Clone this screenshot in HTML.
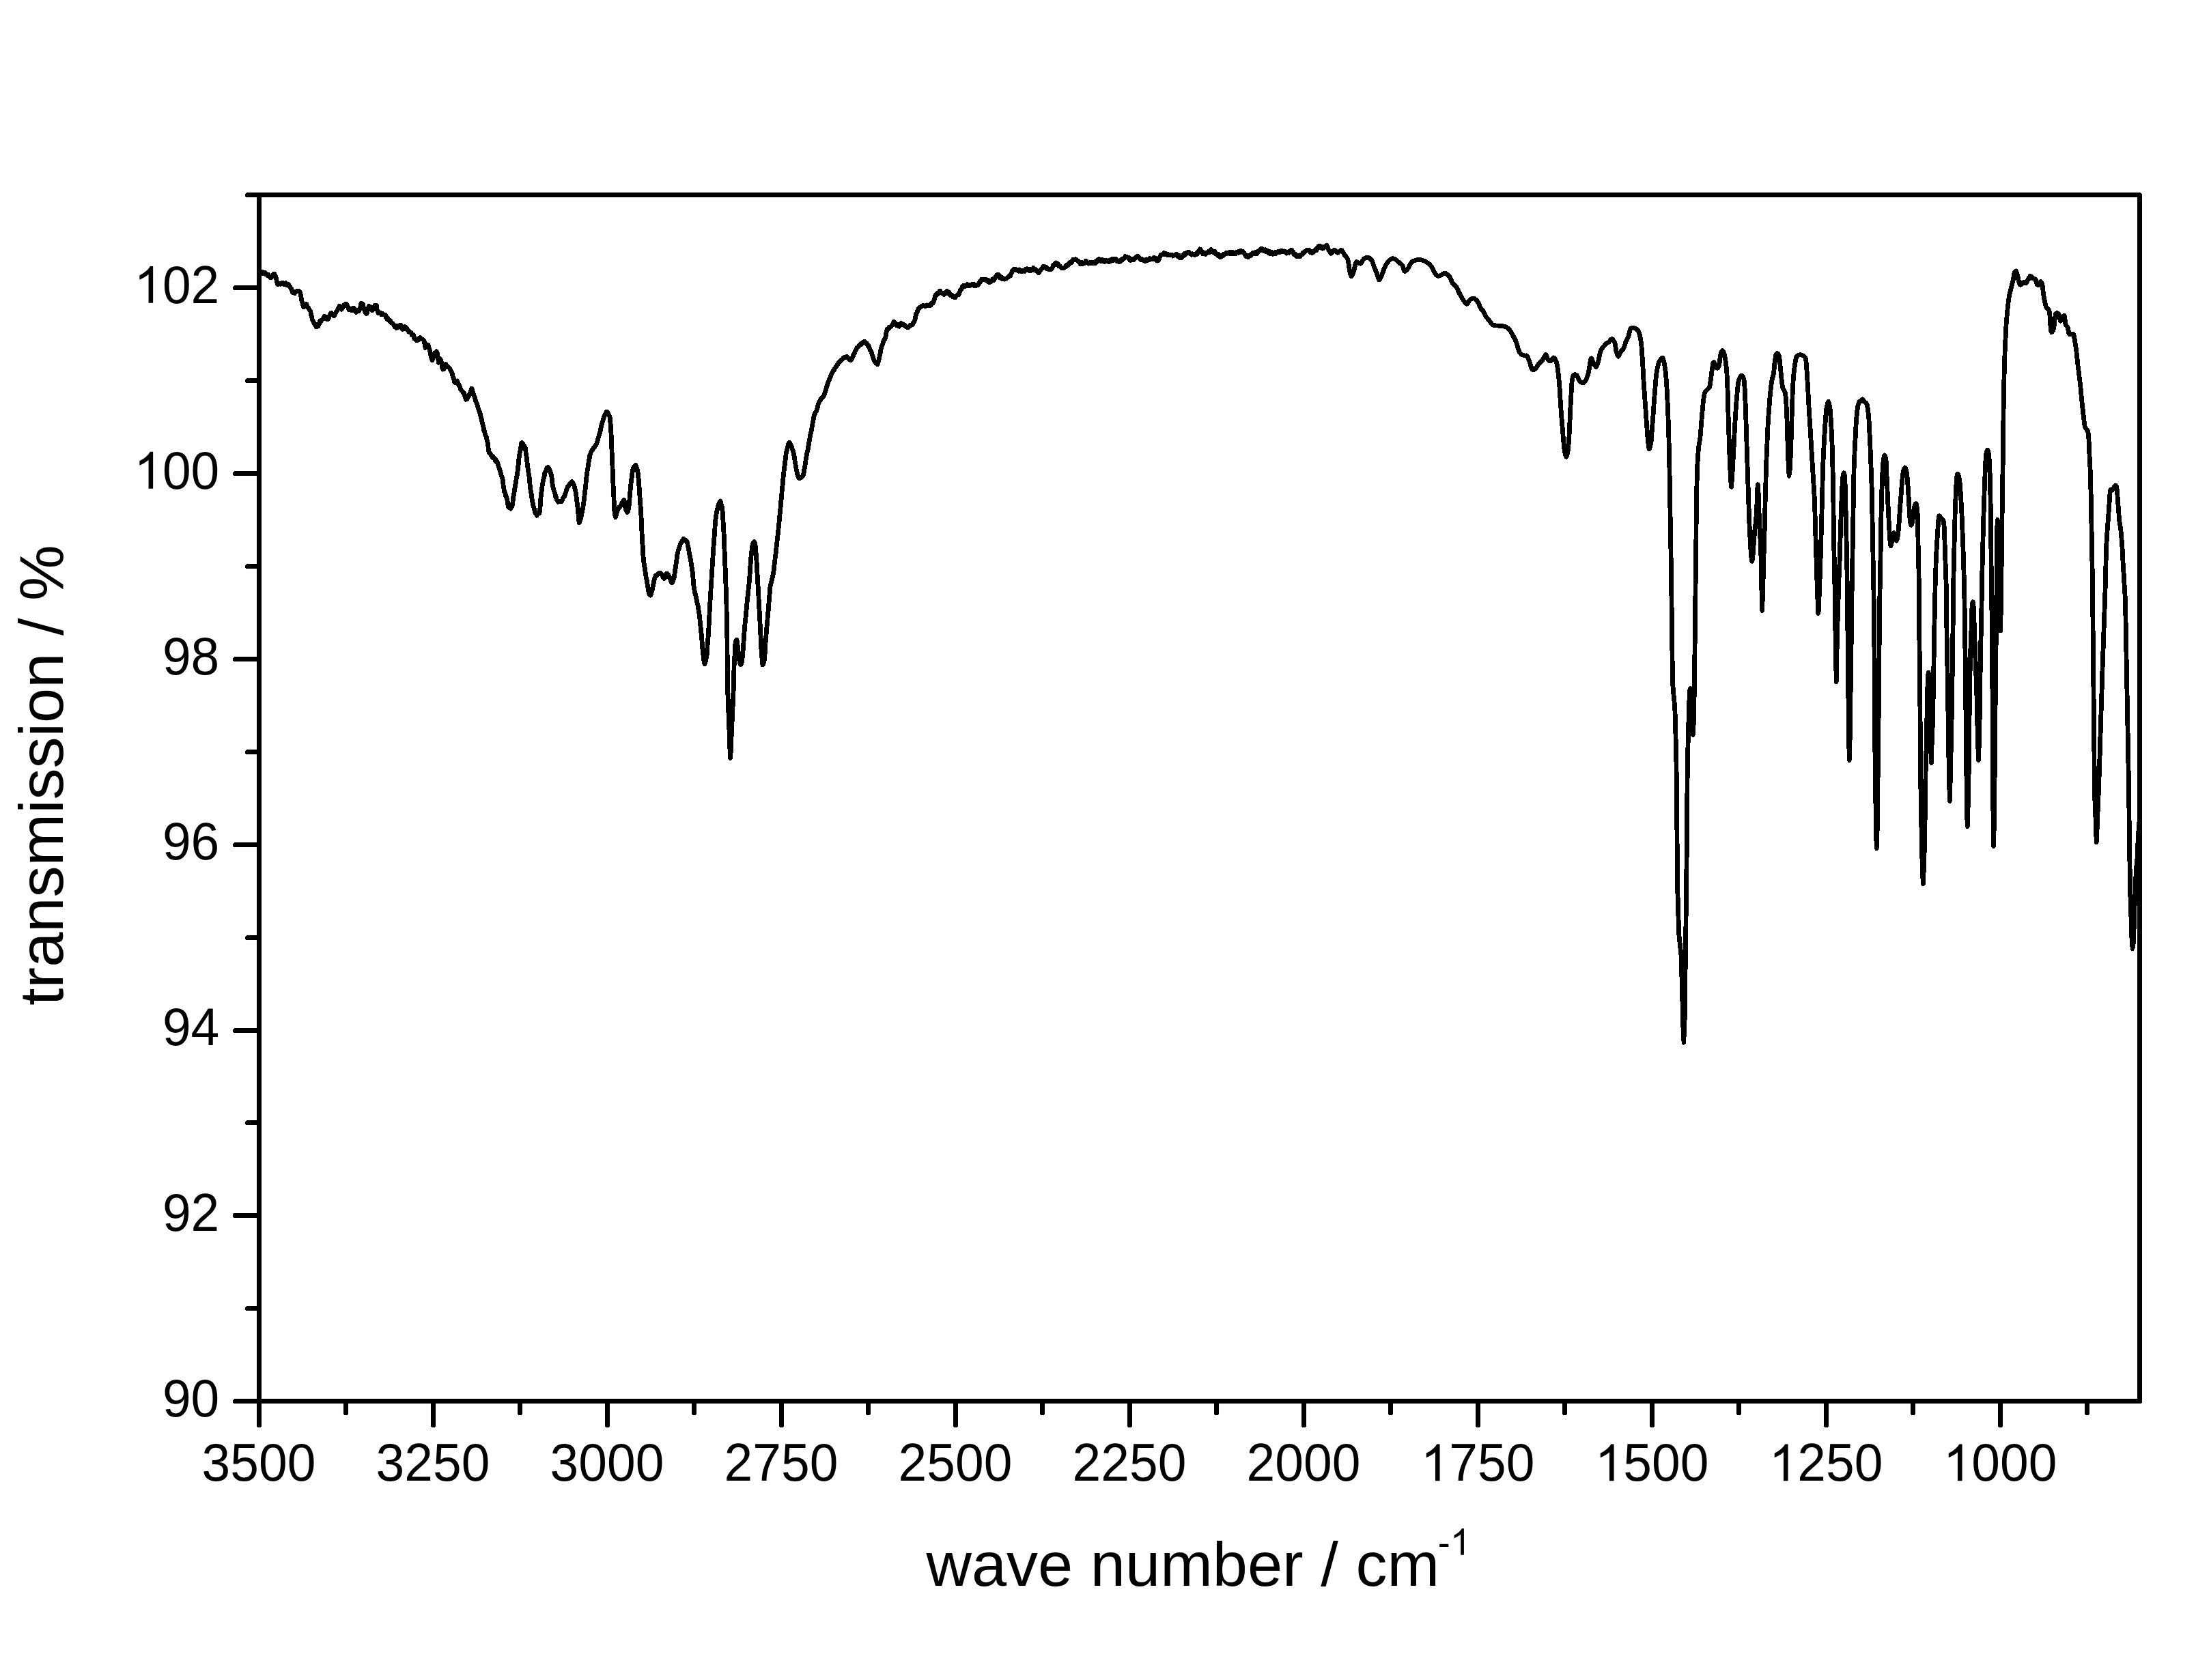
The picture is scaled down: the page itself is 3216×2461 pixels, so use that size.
<!DOCTYPE html>
<html><head><meta charset="utf-8"><title>IR spectrum</title>
<style>html,body{margin:0;padding:0;background:#fff}svg{display:block}text{font-family:"Liberation Sans",sans-serif;fill:#000}</style></head>
<body>
<svg width="3216" height="2461" viewBox="0 0 3216 2461">
<rect width="3216" height="2461" fill="#fff"/>
<path d="M379.5 398.5L380.2 397.7L381.3 399.1L382.5 401.0L383.1 398.2L383.9 398.3L384.9 400.8L386.1 399.7L387.2 401.0L388.3 399.6L389.2 400.2L390.0 401.1L390.8 401.7L391.7 403.5L392.8 402.4L393.9 405.1L395.0 405.8L396.0 406.5L396.8 406.4L397.5 406.5L398.4 404.9L399.4 403.7L400.3 401.9L401.2 402.9L402.0 401.2L402.7 402.5L403.5 404.7L404.5 407.5L405.5 413.2L406.5 416.0L407.5 416.8L408.2 415.8L409.0 415.7L410.1 415.8L411.2 416.2L412.4 414.8L413.6 415.5L414.8 414.5L415.8 416.6L416.8 416.6L417.5 415.2L418.3 414.4L419.3 417.4L420.4 415.8L421.5 416.8L422.5 416.4L423.5 418.5L424.3 419.7L425.0 420.5L425.9 422.2L426.9 423.6L428.0 427.2L429.0 428.6L430.0 429.1L430.7 429.1L431.6 429.7L432.6 427.7L433.8 426.7L435.0 426.7L436.2 426.9L437.2 426.1L438.1 426.7L438.8 427.1L439.8 429.5L440.9 434.6L442.0 440.8L443.0 444.2L443.8 446.9L444.7 450.0L445.7 447.0L446.9 448.3L447.9 447.5L448.8 445.4L449.7 448.9L450.8 450.4L451.9 451.0L453.0 453.3L453.8 454.9L454.6 455.3L455.5 460.5L456.5 464.4L457.5 468.6L458.1 469.9L459.0 471.8L460.1 473.0L461.2 476.1L462.4 477.3L463.5 479.0L464.4 478.5L465.0 478.4L466.0 477.5L467.0 475.2L467.9 472.9L468.8 469.9L469.4 471.5L470.3 469.5L471.3 468.6L472.4 467.5L473.4 466.7L474.3 465.4L475.0 463.3L475.9 463.5L477.0 466.9L478.1 466.8L479.2 467.6L480.0 468.0L480.9 467.0L481.9 463.1L483.1 461.6L484.1 459.1L485.0 458.7L485.8 458.7L486.9 460.9L488.0 461.7L489.1 463.0L490.0 461.2L490.7 460.3L491.6 458.3L492.6 456.6L493.6 455.1L494.6 453.4L495.5 451.3L496.2 450.5L497.1 448.5L498.2 449.4L499.3 450.8L500.3 453.2L501.2 451.8L502.0 451.0L503.0 448.4L504.1 446.7L505.3 445.6L506.3 445.6L507.0 445.2L507.8 446.1L508.6 448.2L509.5 449.5L510.4 452.5L511.2 453.7L511.9 453.9L512.8 453.8L513.8 452.3L514.9 454.5L515.9 451.8L516.8 454.2L517.5 454.0L518.4 451.4L519.5 453.8L520.6 456.1L521.7 457.4L522.5 456.0L523.3 455.2L524.3 454.3L525.4 455.9L526.3 452.5L527.0 452.8L527.9 449.7L528.9 444.2L530.0 445.3L530.6 446.4L531.5 445.7L532.5 450.9L533.5 452.9L534.6 457.0L535.5 458.5L536.2 457.9L537.1 459.4L538.2 455.6L539.4 451.0L540.4 448.4L541.2 448.8L542.1 449.5L543.1 451.4L544.1 453.3L545.0 455.0L545.7 454.3L546.7 452.5L547.8 452.3L548.9 447.4L549.8 448.4L550.5 448.2L551.3 447.1L552.1 453.0L553.0 456.3L553.8 457.7L554.4 458.9L555.3 457.3L556.3 457.9L557.3 458.2L558.3 460.5L559.3 459.4L560.0 459.0L560.7 459.6L561.7 460.5L562.7 460.9L563.7 461.1L564.7 462.2L565.6 465.5L566.2 464.3L567.1 467.7L568.2 466.8L569.1 468.2L570.0 470.0L570.8 470.5L571.9 469.9L573.0 472.9L574.1 473.2L575.0 473.6L575.8 474.7L576.9 475.7L578.0 478.6L579.1 478.8L580.0 480.2L580.7 480.3L581.6 477.6L582.6 479.4L583.7 477.8L584.7 478.3L585.6 477.5L586.2 476.3L587.2 476.4L588.2 481.3L589.2 480.3L590.0 482.4L590.8 481.9L591.8 480.0L592.9 478.5L593.8 479.6L594.6 481.2L595.6 480.4L596.8 483.6L597.9 484.2L598.8 486.4L599.5 486.5L600.4 486.4L601.4 487.1L602.4 488.0L603.4 491.1L604.3 490.5L605.0 490.2L605.9 491.7L606.9 496.2L608.1 497.0L609.1 497.8L610.0 499.0L610.7 498.8L611.6 497.8L612.6 497.7L613.6 495.7L614.6 495.2L615.5 494.5L616.2 495.2L617.1 496.7L618.3 497.1L619.5 497.2L620.5 498.5L621.2 500.1L622.2 505.0L623.0 509.4L623.6 508.8L624.5 506.0L625.4 504.9L626.2 506.6L627.0 505.1L628.1 509.2L629.2 512.8L630.0 516.2L631.0 521.0L632.1 525.0L633.0 527.9L633.7 526.2L634.6 522.7L635.5 518.6L636.2 517.7L637.0 516.8L638.1 517.0L639.2 514.8L640.0 515.9L640.8 519.6L641.8 527.3L642.5 531.3L643.2 529.5L644.2 528.2L645.0 525.8L645.8 528.1L646.8 533.5L647.9 539.3L648.8 541.1L649.6 540.8L650.6 539.5L651.6 535.2L652.5 533.7L653.3 533.9L654.4 535.5L655.6 536.7L656.7 538.3L657.5 538.3L658.4 539.3L659.4 541.6L660.3 542.7L661.2 545.2L662.0 545.8L663.1 551.9L664.3 553.9L665.4 559.5L666.2 560.5L667.1 559.7L668.2 558.4L669.2 557.9L670.0 559.3L670.8 561.0L671.8 564.1L672.9 565.2L673.8 567.3L674.6 570.3L675.7 572.0L676.9 573.0L678.0 574.0L678.8 576.5L679.6 576.1L680.5 579.1L681.4 581.8L682.3 585.2L683.0 585.0L683.9 584.7L685.0 583.0L686.1 580.6L687.0 579.1L687.8 576.8L688.7 575.8L689.7 571.9L690.5 569.3L691.2 569.5L692.2 573.6L693.2 577.4L694.2 579.7L695.0 581.7L695.8 584.1L696.9 588.7L698.1 590.7L699.1 593.3L700.0 596.9L700.9 599.5L702.0 602.9L703.1 605.6L704.2 610.8L705.0 613.3L705.9 617.1L706.9 621.2L707.9 625.1L708.8 631.6L709.6 632.2L710.8 637.4L712.0 639.1L713.0 644.3L713.8 647.1L714.6 650.8L715.4 659.5L716.2 662.5L716.9 664.0L718.0 664.4L719.2 666.4L720.3 668.4L721.2 670.3L722.1 668.6L723.1 670.7L724.3 671.4L725.3 675.4L726.2 673.8L727.1 675.0L728.2 677.0L729.3 680.4L730.4 684.4L731.2 686.3L732.0 688.6L732.9 691.2L733.9 695.5L734.8 698.6L735.5 699.4L736.3 703.3L737.2 711.6L738.1 716.8L738.8 720.8L739.6 721.3L740.7 726.4L741.7 728.3L742.5 730.8L743.3 735.3L744.1 740.5L745.0 743.3L745.8 743.5L746.8 743.9L748.0 745.1L749.2 740.7L750.0 741.6L750.7 738.1L751.5 730.2L752.4 724.6L753.2 720.4L753.8 716.1L754.6 711.5L755.7 704.7L756.7 697.9L757.5 694.9L758.1 689.7L758.7 683.5L759.4 679.0L760.0 671.5L760.6 667.1L761.5 661.8L762.5 657.6L763.4 649.8L764.2 648.5L764.9 648.5L765.9 651.1L766.9 653.0L768.0 653.0L768.9 655.3L769.5 657.3L770.3 664.8L771.1 668.6L771.6 673.6L772.3 680.1L773.1 686.5L773.8 691.4L774.4 694.2L775.1 699.6L775.6 704.2L776.2 711.0L776.8 716.5L777.5 720.4L778.2 724.0L779.2 732.1L780.3 737.3L781.2 741.7L782.0 743.4L783.1 748.8L784.3 752.0L785.4 753.1L786.2 755.3L787.1 752.4L788.2 752.6L789.2 752.0L790.0 751.6L790.5 748.2L791.0 743.0L791.5 736.9L792.0 729.1L792.5 724.6L793.1 719.8L793.8 714.2L794.6 709.0L795.5 703.9L796.2 701.5L796.9 698.6L797.9 692.7L798.9 691.3L800.0 688.3L801.0 685.8L801.8 684.7L802.6 684.5L803.5 685.1L804.5 687.2L805.5 689.9L806.4 693.8L807.0 693.6L807.8 697.7L808.6 703.9L809.3 711.6L810.0 714.1L810.8 717.3L811.8 720.3L812.8 723.5L813.8 727.7L814.4 728.2L815.3 731.9L816.3 733.3L817.3 735.2L818.3 734.1L819.3 734.4L820.0 734.8L820.7 734.5L821.7 734.9L822.7 734.2L823.7 731.7L824.7 729.3L825.6 728.4L826.2 727.9L827.1 725.7L828.0 722.7L829.0 719.9L830.0 716.5L830.6 715.3L831.5 713.0L832.6 712.4L833.7 709.9L834.8 708.7L835.9 707.1L836.8 706.9L837.5 705.7L838.5 706.6L839.6 708.5L840.7 711.1L841.7 715.2L842.5 717.6L843.2 721.3L844.0 727.4L844.9 734.1L845.7 741.2L846.2 745.0L846.7 750.4L847.2 756.4L847.7 762.0L848.2 765.5L848.8 764.6L849.8 761.6L850.8 758.2L851.8 752.8L852.5 750.0L853.2 746.6L854.0 741.2L854.9 735.1L855.7 729.7L856.2 724.3L856.9 718.4L857.6 712.4L858.1 706.9L858.6 701.6L859.3 695.2L860.0 690.8L860.8 685.8L861.8 678.5L862.9 672.6L863.8 667.3L864.6 665.5L865.5 662.5L866.6 660.1L867.5 659.2L868.1 658.5L869.0 656.1L870.1 655.6L871.1 654.3L872.2 652.3L873.1 651.1L873.8 649.8L874.7 646.8L875.8 643.1L877.0 639.0L878.0 635.7L878.8 632.7L879.7 628.6L880.6 624.1L881.6 620.4L882.5 617.8L883.2 614.9L884.1 612.3L885.2 609.2L886.3 607.4L887.2 604.9L888.0 603.1L888.9 603.2L890.1 604.9L891.2 606.9L892.3 609.2L893.0 610.5L893.6 615.2L894.2 622.2L894.7 629.3L895.0 635.3L895.3 640.4L895.4 645.9L895.6 650.3L895.8 654.8L896.0 660.3L896.2 664.9L896.4 669.5L896.6 675.8L896.9 682.2L897.1 687.2L897.3 692.2L897.5 698.5L897.8 704.8L898.0 709.7L898.2 714.3L898.5 719.8L898.8 725.3L899.0 730.7L899.2 735.4L899.5 741.3L899.8 746.9L900.0 749.7L900.6 754.9L901.5 757.6L902.2 755.4L903.1 751.7L904.1 748.3L905.0 745.8L905.8 744.6L906.9 742.6L908.1 742.2L909.2 740.4L910.0 739.2L910.9 737.2L912.0 735.1L913.0 733.3L913.8 732.5L914.6 735.0L915.5 741.4L916.2 744.9L917.0 747.2L918.0 749.8L918.8 750.4L919.6 748.8L920.5 744.4L921.2 740.7L921.7 736.2L922.1 729.1L922.5 724.3L922.9 719.9L923.3 715.3L923.8 710.2L924.4 704.9L925.3 698.3L926.2 691.2L927.0 687.2L927.8 684.9L928.9 683.4L930.0 683.0L930.8 681.4L931.8 683.3L932.9 686.8L933.8 690.7L934.3 693.1L934.8 698.5L935.4 704.5L935.8 710.2L936.2 715.7L936.5 720.2L936.9 725.4L937.2 730.5L937.5 734.5L937.8 738.7L938.2 743.1L938.5 748.3L938.8 752.5L939.0 755.9L939.2 761.2L939.5 766.4L939.6 770.5L939.8 774.8L940.1 781.5L940.3 786.7L940.5 790.7L940.8 795.5L941.2 800.3L941.5 804.8L941.7 809.2L942.0 815.5L942.5 820.6L943.0 824.1L943.8 829.5L944.7 835.7L945.5 840.2L946.2 845.5L947.1 849.7L948.2 856.3L949.2 862.8L950.0 866.7L950.8 869.9L951.7 871.4L952.5 872.0L953.3 870.5L954.3 867.2L955.4 863.0L956.2 859.4L957.0 855.1L958.0 849.6L958.8 846.6L959.5 845.4L960.5 842.9L961.6 842.8L962.5 842.4L963.3 840.6L964.4 841.1L965.5 839.3L966.6 839.6L967.5 839.6L968.4 840.8L969.4 842.3L970.6 844.7L971.7 846.8L972.5 847.4L973.3 847.0L974.3 844.8L975.3 842.6L976.2 840.0L977.0 840.2L977.8 840.8L978.7 842.1L979.7 843.7L980.6 846.5L981.2 847.9L982.1 850.0L983.0 852.5L983.8 854.0L984.5 853.8L985.4 851.4L986.3 849.2L987.0 847.4L987.8 842.6L988.7 835.2L989.5 829.9L990.1 825.6L990.9 819.8L991.8 813.4L992.5 810.2L993.3 806.1L994.3 803.6L995.3 800.3L996.2 797.5L997.0 795.9L998.1 794.0L999.2 792.0L1000.3 791.4L1001.2 789.4L1002.1 790.5L1003.2 791.2L1004.3 791.6L1005.4 792.9L1006.2 793.3L1007.1 797.9L1008.2 802.3L1009.2 808.7L1010.0 813.2L1010.9 817.9L1012.0 822.9L1013.0 830.5L1013.8 835.7L1014.3 838.6L1014.7 844.1L1015.3 850.4L1015.7 855.8L1016.2 860.4L1017.0 864.6L1018.0 869.6L1019.1 873.3L1020.0 878.0L1020.9 882.4L1022.0 887.0L1023.1 893.9L1023.8 898.2L1024.4 902.0L1025.0 907.5L1025.4 912.1L1025.9 916.8L1026.5 922.8L1027.0 927.2L1027.4 931.9L1027.9 937.5L1028.2 941.8L1028.6 946.4L1029.0 952.3L1029.5 957.0L1030.2 962.3L1031.2 970.0L1032.0 972.8L1033.0 970.4L1034.1 964.3L1035.0 960.5L1035.5 955.6L1035.9 949.4L1036.2 943.1L1036.6 938.3L1037.1 933.0L1037.5 927.5L1037.8 922.6L1038.1 916.2L1038.5 909.4L1038.8 904.0L1039.0 898.2L1039.4 891.5L1039.7 884.9L1040.0 880.6L1040.3 876.0L1040.6 870.4L1041.0 865.0L1041.2 860.1L1041.5 855.7L1041.9 850.1L1042.2 844.6L1042.5 840.1L1042.8 835.7L1043.1 830.6L1043.5 825.0L1043.8 820.6L1044.0 814.9L1044.4 809.4L1044.7 803.8L1045.0 800.8L1045.3 796.4L1045.7 790.8L1046.2 784.6L1046.5 780.2L1046.8 775.7L1047.2 769.7L1047.6 764.1L1048.0 760.5L1048.6 756.3L1049.5 750.3L1050.4 746.7L1051.2 742.6L1052.0 739.7L1053.1 737.6L1054.2 735.0L1055.0 734.0L1056.0 737.8L1057.2 742.0L1058.0 748.0L1058.4 752.9L1058.7 759.1L1059.0 763.4L1059.3 768.2L1059.7 774.1L1060.0 780.2L1060.2 784.1L1060.4 789.4L1060.6 795.3L1060.8 800.8L1061.0 805.8L1061.2 810.1L1061.4 815.4L1061.6 821.1L1061.8 826.5L1062.0 830.1L1062.2 834.4L1062.4 839.8L1062.6 845.5L1062.7 850.9L1062.9 855.1L1063.1 859.6L1063.3 865.1L1063.5 870.9L1063.7 876.2L1063.8 880.3L1063.9 884.9L1064.0 889.9L1064.1 895.3L1064.2 899.7L1064.3 904.1L1064.4 909.7L1064.5 915.3L1064.6 919.7L1064.7 924.1L1064.8 929.7L1064.9 935.3L1065.0 939.2L1065.0 943.6L1065.0 949.2L1065.1 954.8L1065.1 959.2L1065.1 963.6L1065.1 969.2L1065.1 974.8L1065.1 979.2L1065.1 983.6L1065.1 989.2L1065.2 994.8L1065.2 999.2L1065.3 1003.6L1065.6 1009.2L1065.8 1014.8L1066.0 1019.2L1066.1 1023.7L1066.4 1029.3L1066.6 1034.8L1066.7 1039.3L1066.9 1043.6L1067.1 1049.2L1067.3 1054.7L1067.5 1059.4L1067.7 1063.5L1067.9 1068.9L1068.1 1075.5L1068.4 1081.1L1068.5 1085.4L1068.7 1090.3L1068.9 1096.9L1069.2 1103.2L1069.4 1108.3L1069.6 1110.4L1069.8 1108.3L1070.1 1103.3L1070.3 1096.7L1070.6 1090.2L1070.8 1085.3L1071.0 1081.5L1071.3 1076.0L1071.6 1070.1L1071.8 1064.7L1072.0 1059.4L1072.2 1054.7L1072.4 1049.2L1072.7 1043.8L1072.9 1039.4L1073.1 1035.1L1073.3 1029.6L1073.5 1024.0L1073.7 1019.6L1073.9 1015.2L1074.2 1010.4L1074.4 1004.8L1074.6 1000.2L1074.7 995.3L1074.8 988.9L1074.9 982.5L1075.0 976.7L1075.3 971.0L1075.7 964.6L1076.0 959.2L1076.3 953.4L1076.6 946.5L1077.0 942.3L1077.9 938.2L1079.0 937.3L1079.7 941.5L1080.5 948.5L1081.2 955.1L1082.0 961.1L1083.0 968.2L1083.8 972.0L1084.6 973.7L1085.5 972.8L1086.2 970.6L1086.8 966.4L1087.5 961.2L1088.0 954.6L1088.4 949.2L1088.9 942.6L1089.2 936.9L1089.6 931.5L1090.1 924.8L1090.5 919.4L1091.0 913.9L1091.6 908.2L1092.2 903.1L1092.7 897.6L1093.3 890.8L1093.8 885.5L1094.3 880.0L1094.9 874.4L1095.4 869.6L1095.9 865.1L1096.5 859.1L1097.0 855.2L1097.3 851.0L1097.8 845.5L1098.2 839.6L1098.5 835.1L1098.8 830.6L1099.2 824.7L1099.6 819.1L1100.0 815.2L1100.5 810.7L1101.2 804.7L1101.9 799.4L1102.5 796.9L1103.4 794.7L1104.6 793.4L1105.5 795.6L1106.0 797.6L1106.6 803.3L1107.1 810.2L1107.5 815.1L1107.8 819.7L1108.2 825.4L1108.5 831.4L1108.8 836.1L1109.0 840.5L1109.4 846.4L1109.7 852.3L1110.0 856.8L1110.3 861.7L1110.6 868.0L1111.0 874.3L1111.2 880.4L1111.5 885.4L1111.9 891.6L1112.2 896.6L1112.5 901.7L1112.7 905.9L1113.0 911.2L1113.3 917.9L1113.5 923.3L1113.8 927.6L1114.0 931.9L1114.2 938.0L1114.5 943.8L1114.8 949.1L1115.0 951.9L1115.4 957.3L1115.9 964.1L1116.5 970.1L1117.0 974.0L1117.8 973.0L1118.8 969.0L1119.5 965.2L1120.0 960.2L1120.4 953.7L1120.8 948.0L1121.1 941.5L1121.6 934.9L1122.0 929.7L1122.5 924.3L1123.0 917.6L1123.5 912.2L1124.0 906.7L1124.5 899.7L1125.0 895.6L1125.5 890.2L1126.0 883.4L1126.5 878.0L1126.9 872.6L1127.4 865.9L1128.0 859.2L1128.7 855.8L1129.7 852.8L1130.8 847.9L1131.8 843.2L1132.5 840.4L1133.2 835.0L1133.8 829.5L1134.3 824.6L1134.9 820.0L1135.6 814.2L1136.2 809.6L1136.8 804.3L1137.5 797.3L1138.1 792.2L1138.7 786.9L1139.4 781.0L1140.0 775.3L1140.4 771.0L1141.0 765.4L1141.5 760.0L1141.9 755.6L1142.3 750.9L1142.9 745.3L1143.4 739.1L1143.8 734.6L1144.2 730.6L1144.7 725.1L1145.2 719.3L1145.7 714.9L1146.1 710.9L1146.6 705.2L1147.1 699.2L1147.5 695.0L1148.1 689.7L1148.8 684.2L1149.3 680.2L1149.9 675.6L1150.5 670.4L1151.2 664.5L1152.0 661.0L1153.1 656.1L1154.2 652.2L1155.0 649.6L1155.8 648.3L1156.6 648.8L1157.5 650.2L1158.3 651.8L1159.3 654.2L1160.6 658.7L1161.7 661.6L1162.5 664.6L1163.4 670.5L1164.4 676.6L1165.4 683.2L1166.2 687.8L1167.0 691.3L1168.0 695.7L1169.0 698.7L1170.0 700.3L1170.6 700.6L1171.5 700.8L1172.6 699.7L1173.6 699.6L1174.7 698.5L1175.6 697.1L1176.2 695.7L1177.1 692.7L1178.2 686.0L1179.1 681.0L1180.0 674.4L1180.8 669.9L1181.9 663.7L1183.1 658.6L1184.2 651.7L1185.0 646.9L1185.9 642.1L1187.0 636.3L1188.0 632.0L1188.8 627.8L1189.5 623.6L1190.4 618.6L1191.3 613.9L1192.0 609.3L1192.7 607.3L1193.6 606.0L1194.6 603.5L1195.5 602.2L1196.2 600.5L1197.0 597.9L1198.0 592.9L1199.0 590.7L1200.0 588.2L1200.6 587.2L1201.5 586.2L1202.5 583.8L1203.6 582.8L1204.6 581.6L1205.5 580.4L1206.2 580.6L1207.1 578.3L1208.2 574.8L1209.3 571.6L1210.3 567.9L1211.2 564.7L1212.0 562.5L1213.0 559.6L1214.1 557.7L1215.2 553.9L1216.2 551.6L1217.0 549.9L1217.8 548.3L1218.7 545.8L1219.8 544.3L1220.8 542.5L1221.8 541.6L1222.5 539.8L1223.4 538.3L1224.4 537.7L1225.5 535.3L1226.5 534.3L1227.5 532.7L1228.2 531.0L1229.1 530.6L1230.1 529.5L1231.2 528.9L1232.4 527.2L1233.4 526.7L1234.3 525.6L1235.0 524.5L1236.0 523.9L1237.0 523.1L1238.1 523.8L1239.1 522.5L1240.0 522.2L1240.7 522.6L1241.6 523.6L1242.6 525.4L1243.7 526.7L1244.7 526.0L1245.6 527.4L1246.2 527.5L1247.1 526.9L1248.2 523.9L1249.1 522.0L1250.0 519.8L1250.8 518.1L1251.8 516.7L1253.0 513.4L1254.1 511.2L1255.0 509.5L1255.7 508.7L1256.6 508.5L1257.6 507.1L1258.6 505.5L1259.6 505.4L1260.5 503.7L1261.2 504.3L1262.1 503.3L1263.2 502.5L1264.3 501.4L1265.4 500.4L1266.2 500.3L1267.1 500.9L1268.1 502.7L1269.3 502.8L1270.3 505.6L1271.2 505.4L1272.1 507.2L1273.2 509.4L1274.3 512.8L1275.4 514.4L1276.2 516.0L1277.1 519.3L1278.1 521.6L1279.1 525.2L1280.0 527.6L1280.8 529.0L1282.0 531.1L1283.2 532.5L1284.2 533.2L1285.0 533.5L1285.9 531.8L1286.7 528.0L1287.5 525.5L1288.2 521.7L1289.2 516.8L1290.3 510.3L1291.2 507.3L1292.0 506.0L1293.1 502.7L1294.3 498.5L1295.4 497.0L1296.2 496.2L1297.0 493.2L1297.8 487.6L1298.7 483.9L1299.5 481.9L1300.2 482.3L1301.1 482.0L1302.2 479.4L1303.3 478.9L1304.2 478.6L1305.0 478.3L1305.9 477.0L1307.0 475.7L1308.1 473.0L1309.1 471.0L1310.0 472.6L1310.9 473.2L1311.9 473.9L1313.1 476.5L1314.1 475.5L1315.0 477.2L1315.9 477.0L1316.9 478.1L1318.1 476.4L1319.1 474.7L1320.0 473.6L1320.8 473.9L1321.9 475.8L1323.0 475.3L1324.1 476.7L1325.0 476.1L1325.7 476.4L1326.5 477.8L1327.5 479.3L1328.5 479.3L1329.5 479.0L1330.4 479.4L1331.2 478.7L1331.9 478.3L1332.9 476.6L1334.0 477.0L1335.1 476.4L1336.2 475.7L1337.3 473.1L1338.2 472.4L1338.8 471.4L1339.8 469.1L1340.8 464.1L1341.7 459.5L1342.5 458.2L1343.3 456.6L1344.2 454.1L1345.2 451.9L1346.2 451.1L1346.8 450.7L1347.7 449.8L1348.7 449.4L1349.8 448.6L1351.0 447.9L1352.1 447.1L1353.0 447.9L1353.8 447.8L1354.6 448.7L1355.5 448.4L1356.5 448.1L1357.6 446.9L1358.6 447.3L1359.6 447.2L1360.5 447.6L1361.2 446.7L1362.1 447.1L1363.2 447.2L1364.3 444.1L1365.4 444.7L1366.3 444.2L1367.0 442.2L1368.0 439.6L1369.0 436.5L1370.0 432.4L1370.6 431.5L1371.4 432.0L1372.4 429.7L1373.5 430.4L1374.5 429.9L1375.5 427.9L1376.2 426.3L1376.9 426.3L1377.9 428.2L1378.9 428.6L1379.9 429.8L1380.9 429.9L1381.8 430.7L1382.5 431.5L1383.4 430.2L1384.4 429.0L1385.4 429.6L1386.5 426.7L1387.5 428.1L1388.2 427.6L1389.0 429.5L1390.1 428.6L1391.2 432.3L1392.4 431.7L1393.5 432.0L1394.6 433.6L1395.5 434.8L1396.2 434.0L1397.0 435.3L1398.0 435.1L1399.0 435.5L1400.1 433.9L1401.0 433.0L1401.9 432.3L1402.5 431.7L1403.4 432.0L1404.5 430.8L1405.4 427.7L1406.2 425.4L1407.0 423.9L1407.9 423.8L1409.0 420.9L1410.0 418.9L1410.6 418.5L1411.5 420.1L1412.5 419.8L1413.6 418.9L1414.7 418.1L1415.8 418.1L1416.7 416.8L1417.5 418.9L1418.3 417.0L1419.2 417.8L1420.2 418.3L1421.2 418.3L1422.3 417.3L1423.3 416.8L1424.2 417.6L1425.0 416.4L1425.8 416.4L1426.7 418.6L1427.8 417.3L1428.9 418.9L1429.9 417.2L1431.0 417.5L1431.8 417.0L1432.5 417.3L1433.5 415.5L1434.5 413.3L1435.6 413.5L1436.6 410.4L1437.5 409.2L1438.2 409.1L1439.1 409.4L1440.1 409.1L1441.2 409.7L1442.2 409.8L1443.1 409.0L1443.8 409.1L1444.7 411.2L1445.7 411.8L1446.8 410.2L1447.9 413.2L1448.8 413.7L1449.5 413.2L1450.4 411.0L1451.4 412.6L1452.5 411.5L1453.6 409.0L1454.6 408.4L1455.5 410.6L1456.2 409.3L1457.2 407.0L1458.3 405.0L1459.4 403.4L1460.4 402.4L1461.2 403.3L1462.1 402.4L1463.0 403.0L1464.1 406.5L1465.0 407.1L1465.6 407.4L1466.5 405.9L1467.4 408.4L1468.5 407.9L1469.5 408.7L1470.4 408.5L1471.2 409.2L1471.9 409.0L1472.9 408.3L1473.9 407.9L1475.1 406.9L1476.2 405.8L1477.2 405.7L1478.1 404.2L1478.8 403.6L1479.8 403.7L1480.8 401.0L1481.9 398.2L1482.9 396.4L1483.8 395.1L1484.5 395.8L1485.4 394.3L1486.4 395.4L1487.4 394.4L1488.4 395.4L1489.3 395.5L1490.0 395.6L1490.9 395.8L1491.9 397.2L1493.0 395.0L1494.0 396.8L1495.0 397.2L1495.7 397.1L1496.6 397.3L1497.6 397.6L1498.7 396.0L1499.8 395.8L1500.9 397.2L1501.8 394.4L1502.5 395.9L1503.3 395.8L1504.2 393.9L1505.2 395.6L1506.2 395.8L1507.2 396.4L1508.1 394.6L1508.8 394.5L1509.5 396.3L1510.4 394.6L1511.4 394.3L1512.4 395.2L1513.4 392.4L1514.3 394.4L1515.0 394.2L1515.7 394.6L1516.6 394.6L1517.6 397.1L1518.6 396.7L1519.6 397.9L1520.5 398.7L1521.2 399.6L1521.9 399.1L1522.8 396.4L1523.8 395.7L1524.9 394.2L1525.9 393.1L1526.8 392.8L1527.5 390.6L1528.2 392.0L1529.2 390.8L1530.2 391.3L1531.2 390.9L1532.2 391.9L1533.1 393.7L1533.8 393.9L1534.7 393.5L1535.8 394.7L1536.9 394.1L1537.9 394.5L1538.8 394.4L1539.5 394.6L1540.3 393.5L1541.3 392.3L1542.4 388.4L1543.4 388.8L1544.3 388.0L1545.0 386.3L1545.7 386.2L1546.6 384.9L1547.6 386.1L1548.6 385.8L1549.6 386.9L1550.5 389.7L1551.2 389.1L1552.0 389.8L1553.0 391.0L1554.1 392.2L1555.2 392.0L1556.2 392.6L1557.0 392.9L1557.8 392.7L1558.8 392.3L1559.8 391.2L1560.8 390.6L1561.8 388.5L1562.5 389.3L1563.3 388.2L1564.3 388.7L1565.2 386.2L1566.2 385.8L1567.0 384.8L1567.7 384.0L1568.6 385.1L1569.7 384.1L1570.7 382.0L1571.7 380.1L1572.5 381.0L1573.2 380.8L1574.1 380.4L1575.1 379.8L1576.2 380.5L1577.2 381.4L1578.1 381.6L1578.8 382.0L1579.7 382.9L1580.8 384.5L1581.9 386.3L1582.9 384.5L1583.8 386.4L1584.5 384.7L1585.3 384.7L1586.3 386.3L1587.4 385.1L1588.4 385.6L1589.3 383.8L1590.0 382.3L1590.7 382.4L1591.6 383.6L1592.6 384.4L1593.6 385.7L1594.6 386.1L1595.5 384.8L1596.2 384.7L1596.9 384.9L1597.8 384.1L1598.8 385.9L1599.9 384.7L1600.9 384.6L1601.8 384.2L1602.5 384.0L1603.2 385.7L1604.1 383.4L1605.1 385.1L1606.2 381.7L1607.2 383.3L1608.1 380.4L1608.8 380.1L1609.5 379.7L1610.4 381.8L1611.4 380.5L1612.4 382.2L1613.4 380.8L1614.3 380.5L1615.0 382.8L1615.7 382.9L1616.6 382.8L1617.6 383.4L1618.6 383.1L1619.6 381.2L1620.5 382.9L1621.2 383.1L1621.9 383.0L1622.8 382.1L1623.8 383.3L1624.9 381.1L1625.9 383.0L1626.8 382.0L1627.5 379.7L1628.2 379.6L1629.2 381.2L1630.2 381.5L1631.2 379.0L1632.2 379.5L1633.1 380.6L1633.8 380.7L1634.7 379.5L1635.8 382.6L1636.9 382.6L1637.9 382.2L1638.8 383.4L1639.5 383.8L1640.4 382.7L1641.4 382.6L1642.4 380.1L1643.4 381.1L1644.3 379.0L1645.0 379.2L1645.9 378.4L1647.0 377.4L1648.1 375.6L1649.2 376.1L1650.0 376.3L1650.8 376.9L1651.9 377.5L1653.0 377.5L1654.1 378.0L1655.0 381.4L1655.7 381.5L1656.6 380.7L1657.6 380.9L1658.6 379.1L1659.6 379.7L1660.5 380.5L1661.2 379.8L1662.1 378.5L1663.1 376.8L1664.2 376.2L1665.3 376.8L1666.2 375.1L1666.9 375.5L1667.8 377.2L1668.8 378.0L1669.8 380.0L1670.8 380.8L1671.8 380.0L1672.5 379.7L1673.2 380.7L1674.1 381.3L1675.1 381.8L1676.2 382.5L1677.2 382.6L1678.1 379.9L1678.8 379.8L1679.5 382.0L1680.4 381.6L1681.4 381.3L1682.4 380.0L1683.4 378.7L1684.3 380.1L1685.0 379.7L1685.7 379.6L1686.6 379.2L1687.6 379.8L1688.7 378.1L1689.7 377.4L1690.5 378.9L1691.2 379.7L1692.1 378.3L1693.2 380.7L1694.3 382.0L1695.4 380.5L1696.2 381.5L1697.0 380.6L1698.0 378.0L1699.1 374.9L1700.2 373.0L1701.2 373.3L1701.9 372.9L1702.8 372.8L1703.8 371.7L1704.9 370.5L1706.0 372.6L1707.1 371.0L1708.0 372.1L1708.8 372.2L1709.5 373.4L1710.4 373.6L1711.4 372.9L1712.5 373.2L1713.6 373.9L1714.6 373.1L1715.5 373.4L1716.2 373.5L1717.0 373.6L1717.9 375.0L1718.9 373.9L1720.1 373.8L1721.1 374.0L1722.2 372.7L1723.1 372.4L1723.8 372.4L1724.6 375.6L1725.5 374.4L1726.5 374.3L1727.5 376.7L1728.4 377.8L1729.3 376.4L1730.0 377.8L1730.7 377.4L1731.6 375.8L1732.6 375.2L1733.6 372.5L1734.6 371.4L1735.5 373.3L1736.2 372.3L1736.9 371.9L1737.8 370.5L1738.8 370.4L1739.8 369.3L1740.8 370.8L1741.7 369.7L1742.5 371.3L1743.2 371.1L1744.1 371.9L1745.1 373.1L1746.2 371.8L1747.3 372.0L1748.3 373.1L1749.3 373.5L1750.0 373.3L1750.8 372.7L1751.9 371.4L1753.0 372.3L1754.2 369.4L1755.3 369.3L1756.2 368.0L1757.0 364.9L1757.8 365.1L1758.8 367.5L1759.8 368.1L1760.8 368.5L1761.7 372.0L1762.5 370.5L1763.2 371.5L1764.1 371.7L1765.1 372.4L1766.2 371.3L1767.2 370.2L1768.1 370.1L1768.8 369.8L1769.7 368.5L1770.8 370.1L1771.9 369.4L1772.9 366.4L1773.8 365.6L1774.5 366.4L1775.3 367.1L1776.3 369.3L1777.3 369.9L1778.3 370.4L1779.2 368.6L1780.0 371.4L1780.7 371.9L1781.6 372.3L1782.6 372.9L1783.7 374.8L1784.8 372.8L1785.8 373.7L1786.7 376.0L1787.5 376.8L1788.3 376.0L1789.2 374.5L1790.2 374.9L1791.2 374.8L1792.3 372.2L1793.3 372.3L1794.2 371.6L1795.0 370.9L1795.7 370.6L1796.6 371.5L1797.6 370.3L1798.7 370.3L1799.8 369.8L1800.8 371.3L1801.7 369.1L1802.5 371.2L1803.2 369.6L1804.1 369.1L1805.2 371.8L1806.3 369.7L1807.4 371.9L1808.5 371.7L1809.6 371.8L1810.5 369.5L1811.2 370.3L1812.0 369.0L1813.0 368.6L1814.1 370.3L1815.2 369.1L1816.3 368.0L1817.3 367.2L1818.1 368.4L1818.8 368.5L1819.8 368.3L1820.9 370.3L1822.0 370.7L1823.0 372.6L1823.8 373.2L1824.6 375.6L1825.7 375.5L1826.8 374.5L1827.9 376.7L1828.8 374.8L1829.5 374.9L1830.3 373.6L1831.3 373.2L1832.4 374.1L1833.4 371.8L1834.3 370.6L1835.0 371.2L1835.7 370.9L1836.6 370.3L1837.6 371.9L1838.6 369.4L1839.6 371.9L1840.5 368.9L1841.2 371.2L1842.0 369.9L1843.0 369.0L1844.1 367.3L1845.2 365.6L1846.2 364.7L1847.0 364.1L1847.7 364.1L1848.7 364.8L1849.7 367.1L1850.8 367.6L1851.9 367.9L1852.9 365.9L1853.8 366.9L1854.5 369.0L1855.4 366.9L1856.4 369.4L1857.5 368.6L1858.7 371.2L1859.8 368.8L1860.8 371.6L1861.8 370.5L1862.5 370.1L1863.3 369.8L1864.2 372.2L1865.2 371.1L1866.2 369.9L1867.3 370.4L1868.3 371.6L1869.2 369.3L1870.0 370.2L1870.7 370.1L1871.7 368.5L1872.7 368.4L1873.8 369.9L1875.0 369.4L1876.1 367.3L1877.1 367.1L1878.1 368.6L1878.8 368.5L1879.6 368.3L1880.6 367.9L1881.6 368.1L1882.7 369.7L1883.7 370.4L1884.7 371.1L1885.5 370.7L1886.2 369.6L1887.1 368.8L1888.2 370.0L1889.3 368.1L1890.3 368.3L1891.2 366.2L1891.9 366.6L1892.8 369.7L1893.8 369.4L1894.8 372.1L1895.8 373.3L1896.8 373.2L1897.5 372.3L1898.2 375.4L1899.1 374.4L1900.1 375.9L1901.2 374.3L1902.2 374.2L1903.1 376.1L1903.8 376.0L1904.5 374.2L1905.4 373.0L1906.4 372.8L1907.5 372.6L1908.5 369.9L1909.3 370.7L1910.0 369.8L1910.9 368.9L1912.0 367.8L1913.1 367.1L1914.2 366.4L1915.0 366.1L1915.8 366.5L1916.9 366.0L1918.0 367.4L1919.1 369.7L1920.0 368.2L1920.7 368.2L1921.6 370.4L1922.5 370.3L1923.6 368.4L1924.6 368.0L1925.5 367.5L1926.2 367.1L1927.0 364.8L1928.0 366.6L1929.1 363.0L1930.2 361.7L1931.2 360.5L1932.0 360.5L1932.8 360.5L1933.7 362.7L1934.8 361.0L1935.8 361.9L1936.7 364.2L1937.5 362.9L1938.3 362.0L1939.2 363.0L1940.2 362.0L1941.3 361.0L1942.2 361.0L1943.0 359.5L1943.8 360.6L1944.8 364.4L1945.9 366.4L1947.0 367.4L1948.0 369.5L1948.8 371.2L1949.6 371.1L1950.6 369.9L1951.7 368.4L1952.8 367.6L1953.7 366.2L1954.5 366.3L1955.4 366.9L1956.5 367.4L1957.6 369.0L1958.7 370.2L1959.5 370.4C1960.7 370.5 1963.4 365.9 1964.5 366.2C1965.6 366.5 1967.7 371.4 1968.8 373.0C1969.9 374.6 1972.9 377.4 1973.8 380.0C1974.7 382.6 1975.6 392.1 1976.2 395.0C1976.8 397.9 1978.1 404.7 1978.8 405.0C1979.5 405.3 1981.6 400.0 1982.5 397.5C1983.4 395.0 1985.0 385.1 1986.2 383.8C1987.4 382.5 1991.2 386.8 1992.5 386.2C1993.8 385.6 1996.2 379.8 1997.5 378.8C1998.8 377.8 2002.5 377.2 2003.8 377.5C2005.1 377.8 2007.8 379.6 2008.8 381.2C2009.8 382.8 2011.6 389.0 2012.5 391.2C2013.4 393.4 2015.4 397.8 2016.2 400.0C2017.0 402.2 2018.6 409.7 2019.5 410.0C2020.4 410.3 2022.9 404.5 2023.8 402.5C2024.7 400.5 2026.5 394.7 2027.5 392.5C2028.5 390.3 2031.2 385.4 2032.5 383.8C2033.8 382.2 2037.5 379.2 2038.8 378.8C2040.1 378.4 2042.6 379.3 2043.8 380.0C2045.0 380.7 2047.6 383.5 2048.8 384.5C2050.0 385.5 2052.8 387.3 2053.8 388.8C2054.8 390.3 2056.0 397.1 2057.0 397.5C2058.0 397.9 2061.3 394.1 2062.5 392.5C2063.7 390.9 2066.0 385.2 2067.5 383.8C2069.0 382.4 2073.4 381.2 2075.0 380.8C2076.6 380.4 2079.6 380.4 2081.2 380.8C2082.8 381.2 2087.1 382.7 2088.8 383.8C2090.6 384.9 2094.8 388.1 2096.2 390.0C2097.6 391.9 2100.0 398.3 2101.2 400.0C2102.4 401.7 2105.0 404.2 2106.2 404.5C2107.4 404.8 2110.0 403.0 2111.2 402.5C2112.4 402.0 2114.9 399.7 2116.2 400.0C2117.5 400.3 2121.2 403.2 2122.5 405.0C2123.8 406.8 2126.3 413.2 2127.5 415.0C2128.7 416.8 2131.3 418.2 2132.5 420.0C2133.7 421.8 2136.3 427.8 2137.5 430.0C2138.7 432.2 2141.3 437.0 2142.5 438.8C2143.7 440.6 2146.8 445.4 2148.0 445.5C2149.2 445.6 2151.4 440.5 2152.5 439.5C2153.6 438.5 2156.3 436.9 2157.5 437.0C2158.7 437.1 2161.5 438.9 2162.5 440.0C2163.5 441.1 2165.5 444.7 2166.2 446.2C2166.9 447.7 2168.1 451.3 2168.8 452.5C2169.5 453.7 2171.6 454.9 2172.5 456.2C2173.4 457.5 2175.2 462.2 2176.2 463.8C2177.2 465.4 2180.0 468.6 2181.2 470.0C2182.4 471.4 2184.9 475.4 2186.2 476.2C2187.5 477.0 2191.0 476.8 2192.5 477.0C2194.0 477.2 2197.3 477.3 2198.8 477.5C2200.3 477.7 2203.6 478.1 2205.0 478.8C2206.4 479.5 2209.9 482.2 2211.2 483.8C2212.5 485.4 2215.1 490.5 2216.2 492.5C2217.3 494.5 2219.6 498.9 2220.5 501.2C2221.4 503.5 2223.0 510.4 2223.8 512.5C2224.6 514.6 2226.3 517.8 2227.5 518.8C2228.7 519.8 2232.8 520.9 2233.8 521.2C2234.8 521.5 2235.5 520.2 2236.2 521.2C2236.9 522.2 2239.1 527.7 2240.0 530.0C2240.9 532.3 2242.8 540.0 2243.8 541.2C2244.8 542.4 2247.6 541.0 2248.8 540.0C2250.0 539.0 2252.6 534.0 2253.8 532.5C2255.0 531.0 2257.6 529.0 2258.8 527.5C2260.0 526.0 2262.8 519.5 2263.8 519.5C2264.8 519.5 2266.6 526.4 2267.5 527.5C2268.4 528.6 2270.3 529.2 2271.2 528.8C2272.1 528.4 2274.1 523.8 2275.0 523.8C2275.9 523.8 2278.1 526.9 2278.8 528.8C2279.5 530.7 2280.6 535.8 2281.2 540.0C2281.8 544.2 2283.4 559.9 2283.8 565.0C2284.2 570.1 2284.7 579.4 2285.0 583.8C2285.3 588.1 2285.9 598.4 2286.2 602.5C2286.5 606.6 2287.2 615.0 2287.5 618.8C2287.8 622.5 2288.4 630.2 2288.8 635.0C2289.2 639.8 2290.6 656.0 2291.2 660.0C2291.8 664.0 2293.2 669.5 2293.8 669.5C2294.4 669.5 2295.7 664.0 2296.2 660.0C2296.7 656.0 2297.9 640.2 2298.2 635.0C2298.5 629.8 2298.9 619.7 2299.1 615.0C2299.3 610.3 2299.8 599.4 2300.0 595.0C2300.2 590.6 2300.8 581.6 2301.0 577.5C2301.2 573.4 2301.6 563.3 2302.0 560.0C2302.4 556.7 2303.7 550.7 2304.5 549.5C2305.3 548.3 2307.7 548.4 2308.8 549.5C2309.9 550.6 2312.6 557.5 2313.8 558.8C2315.0 560.1 2318.3 561.1 2319.5 560.5C2320.7 559.9 2322.9 555.9 2323.8 553.8C2324.7 551.7 2326.3 545.9 2327.0 542.5C2327.7 539.1 2329.2 526.2 2330.0 525.0C2330.8 523.8 2333.0 531.0 2333.8 532.5C2334.6 534.0 2336.3 537.5 2337.0 537.5C2337.7 537.5 2339.2 535.1 2340.0 532.5C2340.8 529.9 2342.9 517.8 2343.8 515.0C2344.7 512.2 2346.5 510.2 2347.5 508.8C2348.5 507.4 2351.5 503.9 2352.5 503.0C2353.5 502.1 2355.3 502.0 2356.2 501.2C2357.1 500.4 2359.5 496.0 2360.5 496.2C2361.5 496.4 2364.2 500.3 2365.0 502.5C2365.8 504.7 2366.4 512.7 2367.0 515.0C2367.6 517.3 2369.2 522.5 2370.0 522.5C2370.8 522.5 2372.9 516.5 2373.8 515.0C2374.7 513.5 2377.1 511.8 2378.0 510.0C2378.9 508.2 2380.4 501.9 2381.2 500.0C2382.0 498.1 2383.8 495.8 2384.5 493.8C2385.2 491.8 2386.7 484.1 2387.5 482.5C2388.3 480.9 2390.0 480.0 2391.2 480.0C2392.4 480.0 2396.3 481.3 2397.5 482.5C2398.7 483.7 2400.5 487.4 2401.2 490.0C2401.9 492.6 2403.3 500.3 2403.8 505.0C2404.3 509.7 2405.2 525.0 2405.5 530.0C2405.8 535.0 2406.3 543.4 2406.5 547.5C2406.7 551.6 2407.2 560.9 2407.5 565.0C2407.8 569.1 2408.5 578.4 2408.8 582.5C2409.0 586.6 2409.7 595.9 2410.0 600.0C2410.3 604.1 2411.0 613.4 2411.2 617.5C2411.5 621.6 2412.1 630.3 2412.5 635.0C2412.9 639.7 2414.4 656.0 2415.0 657.5C2415.6 659.0 2417.5 650.6 2418.0 647.5C2418.5 644.4 2419.0 635.0 2419.2 631.2C2419.5 627.5 2420.2 618.9 2420.5 615.0C2420.8 611.1 2421.5 601.6 2421.8 597.5C2422.0 593.4 2422.7 583.8 2423.0 580.0C2423.3 576.2 2424.0 568.5 2424.2 565.0C2424.5 561.5 2425.0 553.8 2425.5 550.0C2426.0 546.2 2428.0 535.2 2428.8 532.5C2429.6 529.8 2431.3 527.7 2432.0 526.7C2432.7 525.7 2434.1 523.4 2434.7 524.2C2435.3 525.0 2436.9 530.3 2437.5 533.3C2438.1 536.3 2439.3 545.3 2439.7 550.0C2440.1 554.7 2441.0 567.7 2441.3 573.3C2441.6 578.9 2442.3 593.4 2442.5 598.3C2442.7 603.2 2443.0 611.1 2443.1 615.0C2443.2 618.9 2443.6 627.3 2443.7 631.7C2443.8 636.1 2444.1 647.6 2444.2 652.5C2444.3 657.4 2444.6 668.1 2444.7 673.3C2444.8 678.5 2445.0 691.2 2445.1 696.6C2445.2 702.1 2445.4 714.5 2445.5 720.0C2445.6 725.5 2445.8 738.4 2445.9 744.0C2446.0 749.6 2446.2 762.4 2446.3 768.0C2446.4 773.6 2446.6 786.4 2446.7 792.0C2446.8 797.6 2447.0 810.4 2447.1 816.0C2447.2 821.6 2447.4 834.4 2447.5 840.0C2447.6 845.6 2447.7 858.4 2447.8 864.0C2447.9 869.6 2448.0 882.4 2448.1 888.0C2448.2 893.6 2448.3 906.4 2448.4 912.0C2448.5 917.6 2448.6 930.4 2448.7 936.0C2448.8 941.6 2448.9 954.9 2449.0 960.0C2449.1 965.1 2449.2 975.3 2449.3 980.0C2449.4 984.7 2449.4 995.6 2449.6 1000.0C2449.8 1004.4 2450.7 1014.3 2451.0 1018.0C2451.3 1021.7 2452.1 1028.3 2452.4 1032.0C2452.7 1035.7 2453.1 1045.6 2453.3 1050.0C2453.5 1054.4 2453.7 1065.3 2453.8 1070.0C2453.9 1074.7 2454.2 1085.9 2454.3 1090.0C2454.4 1094.1 2454.6 1101.5 2454.7 1105.0C2454.7 1108.5 2454.9 1115.2 2455.0 1120.0C2455.1 1124.8 2455.2 1139.7 2455.2 1145.7C2455.3 1151.7 2455.4 1165.4 2455.5 1171.4C2455.5 1177.4 2455.7 1191.1 2455.7 1197.1C2455.8 1203.1 2455.9 1216.9 2456.0 1222.9C2456.0 1228.9 2456.2 1242.6 2456.2 1248.6C2456.3 1254.6 2456.4 1268.3 2456.5 1274.3C2456.5 1280.3 2456.6 1294.4 2456.7 1300.0C2456.8 1305.6 2457.2 1317.1 2457.4 1322.3C2457.5 1327.5 2457.9 1339.5 2458.0 1344.7C2458.2 1349.9 2458.4 1362.5 2458.7 1367.0C2459.0 1371.5 2460.0 1379.7 2460.3 1383.5C2460.7 1387.3 2461.7 1395.4 2462.0 1400.0C2462.3 1404.6 2462.5 1417.9 2462.7 1423.3C2462.8 1428.8 2463.2 1441.2 2463.3 1446.7C2463.5 1452.1 2463.8 1464.0 2464.0 1470.0C2464.2 1476.0 2464.6 1491.8 2464.8 1498.5C2464.9 1505.2 2465.2 1526.8 2465.5 1527.0C2465.8 1527.2 2466.8 1506.5 2467.0 1500.0C2467.2 1493.5 2467.3 1478.1 2467.4 1471.4C2467.5 1464.8 2467.7 1449.5 2467.8 1442.9C2467.9 1436.2 2468.1 1421.0 2468.2 1414.3C2468.2 1407.6 2468.5 1392.4 2468.5 1385.7C2468.6 1379.0 2468.8 1363.8 2468.9 1357.1C2469.0 1350.5 2469.2 1335.2 2469.3 1328.6C2469.4 1321.9 2469.6 1306.3 2469.7 1300.0C2469.8 1293.7 2469.9 1280.3 2469.9 1274.3C2470.0 1268.3 2470.1 1254.6 2470.2 1248.6C2470.2 1242.6 2470.3 1228.9 2470.4 1222.9C2470.4 1216.9 2470.6 1203.1 2470.6 1197.1C2470.7 1191.1 2470.8 1177.4 2470.8 1171.4C2470.9 1165.4 2471.0 1151.7 2471.1 1145.7C2471.1 1139.7 2471.2 1125.9 2471.3 1120.0C2471.4 1114.1 2471.8 1100.8 2471.9 1095.0C2472.1 1089.2 2472.5 1074.8 2472.6 1070.0C2472.7 1065.2 2472.9 1057.7 2473.0 1054.0C2473.1 1050.3 2473.2 1042.4 2473.4 1038.0C2473.6 1033.6 2474.2 1019.5 2474.4 1016.0C2474.6 1012.5 2475.2 1007.9 2475.4 1008.4C2475.6 1008.9 2476.1 1016.3 2476.3 1020.0C2476.5 1023.7 2477.0 1034.8 2477.3 1040.0C2477.6 1045.2 2478.3 1060.7 2478.5 1065.0C2478.7 1069.3 2479.1 1076.6 2479.3 1076.6C2479.5 1076.6 2479.8 1068.7 2480.0 1065.0C2480.2 1061.3 2480.5 1050.0 2480.6 1045.0C2480.7 1040.0 2480.9 1027.8 2481.1 1022.5C2481.2 1017.2 2481.4 1005.0 2481.5 1000.0C2481.6 995.0 2481.7 984.7 2481.7 980.0C2481.7 975.3 2481.8 965.1 2481.9 960.0C2482.0 954.9 2482.1 941.6 2482.2 936.0C2482.2 930.4 2482.4 917.6 2482.5 912.0C2482.5 906.4 2482.7 893.6 2482.7 888.0C2482.8 882.4 2483.0 869.6 2483.0 864.0C2483.1 858.4 2483.2 845.6 2483.3 840.0C2483.4 834.4 2483.5 821.6 2483.6 816.0C2483.6 810.4 2483.8 797.6 2483.9 792.0C2483.9 786.4 2484.1 773.6 2484.1 768.0C2484.2 762.4 2484.4 749.6 2484.4 744.0C2484.5 738.4 2484.6 725.0 2484.7 720.0C2484.8 715.0 2485.1 705.3 2485.2 700.9C2485.4 696.4 2485.5 686.9 2485.8 681.7C2486.1 676.5 2487.0 661.6 2487.5 656.7C2488.0 651.8 2489.5 644.9 2490.0 640.0C2490.5 635.1 2491.5 620.8 2492.0 615.0C2492.5 609.2 2493.7 594.7 2494.2 590.0C2494.7 585.3 2495.6 577.6 2496.7 575.0C2497.8 572.4 2502.3 569.6 2503.3 567.5C2504.3 565.4 2504.9 559.5 2505.3 556.7C2505.7 553.9 2506.6 546.1 2507.0 543.3C2507.4 540.5 2508.3 534.0 2508.7 532.5C2509.1 531.0 2509.9 530.2 2510.3 530.8C2510.7 531.4 2512.0 536.5 2512.5 537.5C2513.0 538.5 2514.4 539.5 2515.0 539.2C2515.6 538.9 2517.0 536.9 2517.5 535.0C2518.0 533.1 2518.8 525.5 2519.2 523.3C2519.6 521.1 2520.4 516.9 2520.8 515.8C2521.2 514.7 2522.0 513.4 2522.5 513.7C2523.0 514.0 2524.4 516.2 2525.0 518.3C2525.6 520.4 2527.0 527.6 2527.5 531.7C2528.0 535.8 2529.0 548.0 2529.3 553.3C2529.6 558.5 2530.1 572.2 2530.3 576.7C2530.5 581.2 2530.6 588.2 2530.7 591.7C2530.7 595.2 2530.9 603.0 2531.0 606.7C2531.1 610.4 2531.4 619.5 2531.5 623.4C2531.6 627.2 2531.9 636.1 2532.0 640.0C2532.1 643.9 2532.5 652.8 2532.6 656.6C2532.7 660.5 2533.0 668.2 2533.2 673.3C2533.4 678.4 2534.2 695.3 2534.5 700.0C2534.8 704.7 2535.3 713.3 2535.5 713.3C2535.7 713.3 2536.3 702.7 2536.5 700.0C2536.7 697.3 2537.0 693.1 2537.2 690.0C2537.4 686.9 2537.9 677.2 2538.1 673.4C2538.3 669.5 2538.8 660.6 2539.0 656.7C2539.2 652.8 2539.7 643.9 2539.8 640.0C2540.0 636.1 2540.4 628.2 2540.7 623.3C2541.0 618.4 2541.8 603.7 2542.2 598.3C2542.6 592.9 2543.6 581.2 2544.0 576.7C2544.4 572.2 2545.3 562.8 2545.8 560.0C2546.3 557.2 2547.7 553.7 2548.3 552.5C2548.9 551.3 2550.2 549.7 2550.8 550.0C2551.4 550.3 2553.2 552.7 2553.7 555.0C2554.2 557.3 2554.9 565.5 2555.2 570.0C2555.5 574.5 2556.0 588.8 2556.2 593.3C2556.4 597.8 2556.6 604.8 2556.7 608.3C2556.8 611.8 2557.1 619.6 2557.2 623.3C2557.3 627.0 2557.6 636.1 2557.7 640.0C2557.8 643.9 2558.1 652.8 2558.2 656.7C2558.3 660.6 2558.6 669.5 2558.8 673.4C2558.9 677.2 2559.2 686.3 2559.3 690.0C2559.4 693.7 2559.7 701.5 2559.8 705.0C2559.9 708.5 2560.2 715.7 2560.3 720.0C2560.4 724.3 2560.8 736.5 2561.0 741.5C2561.2 746.5 2561.5 758.5 2561.7 763.0C2561.9 767.5 2562.4 775.7 2562.6 780.0C2562.8 784.3 2563.3 795.8 2563.6 800.0C2563.9 804.2 2564.5 813.4 2564.8 816.0C2565.1 818.6 2565.6 822.4 2565.8 822.4C2566.0 822.4 2566.6 818.6 2566.9 816.0C2567.2 813.4 2567.7 804.2 2568.0 800.0C2568.3 795.8 2569.1 784.1 2569.5 780.0C2569.9 775.9 2570.9 768.9 2571.3 765.0C2571.7 761.1 2572.3 751.7 2572.6 746.7C2572.9 741.7 2573.4 726.0 2573.6 722.0C2573.8 718.0 2573.9 713.4 2574.0 712.0C2574.1 710.6 2574.3 709.7 2574.4 709.7C2574.5 709.7 2574.7 710.6 2574.8 712.0C2574.9 713.4 2575.0 718.0 2575.1 722.0C2575.2 726.0 2575.7 740.9 2575.9 746.7C2576.1 752.5 2576.7 765.9 2577.0 771.7C2577.3 777.5 2578.1 791.1 2578.3 796.7C2578.5 802.3 2579.0 814.9 2579.1 820.0C2579.2 825.1 2579.4 835.3 2579.4 840.0C2579.5 844.7 2579.7 855.7 2579.8 860.0C2579.9 864.3 2580.1 873.2 2580.2 877.2C2580.4 881.3 2580.6 894.5 2580.7 894.5C2580.8 894.5 2581.1 881.3 2581.2 877.2C2581.4 873.2 2581.7 864.3 2581.8 860.0C2581.9 855.7 2582.2 844.7 2582.3 840.0C2582.4 835.3 2582.7 824.1 2582.8 820.0C2582.9 815.9 2583.2 808.5 2583.3 805.0C2583.4 801.5 2583.7 794.7 2583.8 790.0C2583.9 785.3 2584.3 770.8 2584.4 765.0C2584.5 759.2 2584.9 745.2 2585.0 740.0C2585.1 734.8 2585.4 724.7 2585.6 720.0C2585.7 715.3 2586.0 704.7 2586.1 700.0C2586.3 695.3 2586.6 684.2 2586.7 680.0C2586.8 675.8 2587.2 667.8 2587.3 664.1C2587.5 660.5 2587.8 653.5 2588.0 648.3C2588.2 643.1 2588.9 625.8 2589.2 620.0C2589.5 614.2 2590.4 603.4 2590.8 598.3C2591.2 593.2 2592.0 581.6 2592.5 576.7C2593.0 571.8 2594.4 560.2 2595.0 556.7C2595.6 553.2 2597.0 549.8 2597.5 546.7C2598.0 543.6 2598.8 533.1 2599.2 530.0C2599.6 526.9 2600.3 521.4 2600.8 520.0C2601.3 518.6 2602.7 517.3 2603.3 517.7C2603.9 518.1 2605.3 520.7 2605.8 523.3C2606.3 525.9 2607.1 536.1 2607.5 540.0C2607.9 543.9 2608.8 553.4 2609.2 556.7C2609.6 560.0 2610.2 566.2 2610.8 568.3C2611.4 570.4 2613.6 572.5 2614.2 575.0C2614.8 577.5 2615.5 585.3 2615.8 590.0C2616.1 594.7 2616.8 610.1 2617.0 615.0C2617.2 619.9 2617.4 627.8 2617.5 631.6C2617.6 635.5 2617.9 644.4 2618.0 648.3C2618.1 652.2 2618.5 661.1 2618.6 665.0C2618.7 668.9 2619.0 677.9 2619.2 681.7C2619.4 685.5 2620.0 697.5 2620.3 697.5C2620.6 697.5 2621.5 685.5 2621.7 681.7C2621.9 677.9 2622.2 668.9 2622.3 665.0C2622.5 661.1 2622.9 652.7 2623.0 648.3C2623.1 643.9 2623.5 632.4 2623.6 627.5C2623.7 622.6 2624.1 611.1 2624.2 606.7C2624.3 602.3 2624.6 593.9 2624.8 590.0C2624.9 586.1 2625.1 578.0 2625.3 573.3C2625.5 568.6 2626.3 554.7 2626.7 550.0C2627.1 545.3 2628.2 536.4 2628.7 533.3C2629.2 530.2 2630.2 524.8 2630.8 523.3C2631.4 521.8 2632.7 520.6 2633.7 520.3C2634.7 519.9 2638.0 519.8 2639.2 520.3C2640.4 520.8 2643.4 522.7 2644.2 525.0C2645.0 527.3 2645.4 535.1 2645.8 540.0C2646.2 544.9 2647.2 561.7 2647.5 566.7C2647.8 571.7 2648.2 578.8 2648.3 582.5C2648.5 586.2 2649.0 594.5 2649.2 598.3C2649.4 602.1 2650.0 611.1 2650.2 615.0C2650.5 618.9 2651.1 627.8 2651.3 631.7C2651.5 635.6 2652.1 644.5 2652.3 648.4C2652.5 652.2 2653.1 661.1 2653.3 665.0C2653.5 668.9 2654.1 677.8 2654.3 681.6C2654.5 685.5 2655.0 693.8 2655.3 698.3C2655.6 702.8 2656.5 716.0 2656.7 720.0C2656.9 724.0 2657.3 729.6 2657.4 733.0C2657.5 736.4 2657.8 745.6 2657.9 749.5C2658.0 753.4 2658.3 761.9 2658.4 766.0C2658.5 770.1 2658.8 780.2 2658.9 784.5C2659.1 788.8 2659.4 798.7 2659.5 803.0C2659.6 807.3 2659.9 817.2 2660.1 821.5C2660.2 825.8 2660.5 836.1 2660.6 840.0C2660.7 843.9 2661.0 851.5 2661.1 855.0C2661.2 858.5 2661.4 864.9 2661.6 870.0C2661.8 875.1 2662.6 898.4 2662.9 898.4C2663.2 898.4 2664.1 875.1 2664.3 870.0C2664.5 864.9 2664.7 858.5 2664.9 855.0C2665.0 851.5 2665.3 843.7 2665.4 840.0C2665.5 836.3 2665.8 827.0 2665.9 823.0C2666.1 819.0 2666.4 810.4 2666.5 806.0C2666.6 801.6 2666.9 790.3 2667.1 785.5C2667.2 780.7 2667.5 769.5 2667.6 765.0C2667.7 760.5 2668.0 750.8 2668.1 746.5C2668.2 742.2 2668.5 732.9 2668.6 728.0C2668.7 723.1 2669.0 710.3 2669.1 704.9C2669.3 699.4 2669.5 686.3 2669.7 681.7C2669.9 677.1 2670.3 668.9 2670.5 665.0C2670.7 661.1 2671.0 653.5 2671.3 648.3C2671.6 643.0 2672.6 625.6 2673.0 620.0C2673.4 614.4 2674.2 603.7 2674.7 600.0C2675.2 596.3 2676.9 588.5 2677.5 588.3C2678.1 588.1 2679.5 594.6 2680.0 598.3C2680.5 602.0 2681.3 614.2 2681.7 620.0C2682.0 625.8 2682.8 642.8 2683.0 648.3C2683.2 653.8 2683.4 663.0 2683.5 667.5C2683.6 672.0 2683.9 682.5 2684.0 686.7C2684.1 690.9 2684.3 699.5 2684.3 703.4C2684.4 707.2 2684.6 715.3 2684.7 720.0C2684.8 724.7 2684.9 737.9 2685.0 743.3C2685.0 748.8 2685.2 761.2 2685.2 766.7C2685.3 772.1 2685.4 784.4 2685.5 790.0C2685.6 795.6 2686.0 809.2 2686.1 815.0C2686.2 820.8 2686.6 834.5 2686.7 840.0C2686.8 845.5 2686.9 857.2 2687.0 862.5C2687.1 867.8 2687.3 879.8 2687.3 885.0C2687.4 890.2 2687.6 902.2 2687.7 907.5C2687.8 912.8 2687.9 924.7 2688.0 930.0C2688.1 935.3 2688.3 947.6 2688.4 953.0C2688.5 958.4 2688.7 970.6 2688.8 976.0C2688.9 981.4 2689.1 999.0 2689.2 999.0C2689.3 999.0 2689.5 981.4 2689.6 976.0C2689.7 970.6 2690.0 958.4 2690.1 953.0C2690.2 947.6 2690.4 935.3 2690.5 930.0C2690.6 924.7 2691.0 912.8 2691.2 907.5C2691.4 902.2 2691.7 890.2 2691.9 885.0C2692.1 879.8 2692.4 867.8 2692.6 862.5C2692.8 857.2 2693.1 845.4 2693.3 840.0C2693.5 834.6 2694.2 821.3 2694.4 816.0C2694.6 810.7 2694.8 799.5 2694.9 794.5C2695.1 789.5 2695.4 777.4 2695.5 773.0C2695.6 768.6 2695.9 760.7 2696.1 757.0C2696.2 753.3 2696.4 745.4 2696.6 741.0C2696.8 736.6 2697.4 723.5 2697.6 719.0C2697.8 714.5 2698.3 704.8 2698.5 702.0C2698.7 699.2 2699.2 696.1 2699.4 695.0C2699.6 693.9 2700.1 692.7 2700.3 692.7C2700.5 692.7 2700.9 693.9 2701.1 695.0C2701.3 696.1 2701.6 698.7 2701.8 702.0C2702.0 705.3 2702.4 718.4 2702.5 723.0C2702.6 727.6 2702.8 737.2 2702.9 741.5C2703.1 745.8 2703.3 754.9 2703.4 760.0C2703.5 765.1 2703.8 779.2 2703.9 785.0C2704.1 790.8 2704.4 805.3 2704.5 810.0C2704.6 814.7 2704.7 821.5 2704.8 825.0C2704.8 828.5 2704.9 835.0 2705.0 840.0C2705.1 845.0 2705.2 861.5 2705.3 868.0C2705.4 874.5 2705.5 889.5 2705.6 896.0C2705.7 902.5 2705.8 917.5 2705.9 924.0C2706.0 930.5 2706.1 945.5 2706.2 952.0C2706.3 958.5 2706.4 973.8 2706.5 980.0C2706.6 986.2 2706.7 999.2 2706.8 1005.0C2706.8 1010.8 2706.9 1024.2 2707.0 1030.0C2707.1 1035.8 2707.2 1049.2 2707.2 1055.0C2707.3 1060.8 2707.4 1075.1 2707.5 1080.0C2707.6 1084.9 2707.8 1092.9 2707.9 1096.8C2708.0 1100.8 2708.2 1113.7 2708.3 1113.7C2708.4 1113.7 2708.6 1100.8 2708.8 1096.8C2708.9 1092.9 2709.1 1084.9 2709.2 1080.0C2709.3 1075.1 2709.5 1060.8 2709.5 1055.0C2709.6 1049.2 2709.8 1035.8 2709.9 1030.0C2710.0 1024.2 2710.2 1010.8 2710.2 1005.0C2710.3 999.2 2710.5 986.2 2710.6 980.0C2710.7 973.8 2710.9 958.5 2711.0 952.0C2711.1 945.5 2711.3 930.5 2711.4 924.0C2711.4 917.5 2711.7 902.5 2711.7 896.0C2711.8 889.5 2712.0 874.5 2712.1 868.0C2712.2 861.5 2712.4 845.7 2712.5 840.0C2712.6 834.3 2712.8 823.9 2712.9 819.0C2713.0 814.1 2713.1 802.9 2713.2 798.0C2713.3 793.1 2713.5 782.5 2713.6 777.0C2713.7 771.5 2713.9 757.1 2714.0 751.0C2714.1 744.9 2714.3 730.1 2714.4 725.0C2714.5 719.9 2714.6 711.6 2714.7 707.5C2714.8 703.4 2714.9 694.0 2715.0 690.0C2715.1 686.0 2715.5 677.2 2715.7 673.4C2715.8 669.5 2716.1 660.6 2716.3 656.7C2716.5 652.8 2717.0 643.9 2717.2 640.0C2717.3 636.1 2717.7 628.0 2718.0 623.3C2718.3 618.6 2719.5 604.0 2720.0 600.0C2720.5 596.0 2721.9 590.7 2722.5 589.2C2723.1 587.7 2724.4 588.0 2725.0 587.5C2725.6 587.0 2726.9 584.6 2727.5 584.7C2728.1 584.8 2729.3 587.6 2730.0 588.3C2730.7 589.0 2732.7 589.6 2733.3 590.8C2733.9 592.0 2734.9 595.5 2735.3 598.3C2735.7 601.1 2736.7 611.1 2737.0 615.0C2737.3 618.9 2737.7 627.8 2737.8 631.6C2738.0 635.5 2738.5 644.4 2738.7 648.3C2738.9 652.2 2739.2 661.1 2739.3 665.0C2739.5 668.9 2739.8 677.5 2740.0 681.7C2740.2 685.9 2740.5 696.4 2740.7 700.9C2740.8 705.3 2741.2 715.2 2741.3 720.0C2741.4 724.8 2741.6 737.0 2741.7 742.2C2741.8 747.4 2742.0 759.3 2742.1 764.5C2742.2 769.7 2742.4 781.5 2742.5 786.7C2742.6 791.9 2742.8 803.7 2742.9 808.9C2743.0 814.1 2743.2 825.9 2743.3 831.1C2743.4 836.3 2743.6 848.3 2743.7 853.3C2743.8 858.3 2744.0 869.3 2744.1 874.1C2744.1 879.0 2744.3 889.5 2744.4 895.0C2744.5 900.5 2744.6 915.1 2744.6 921.2C2744.7 927.4 2744.8 941.4 2744.9 947.5C2744.9 953.6 2745.0 967.6 2745.1 973.8C2745.1 979.9 2745.3 993.8 2745.3 1000.0C2745.3 1006.2 2745.4 1020.4 2745.4 1026.7C2745.5 1032.9 2745.5 1047.1 2745.6 1053.3C2745.6 1059.6 2745.7 1074.3 2745.7 1080.0C2745.7 1085.7 2745.9 1097.0 2745.9 1102.2C2746.0 1107.4 2746.1 1119.3 2746.2 1124.5C2746.2 1129.7 2746.3 1141.5 2746.4 1146.7C2746.5 1151.9 2746.7 1163.6 2746.8 1168.8C2746.9 1174.0 2747.0 1185.7 2747.1 1190.9C2747.2 1196.1 2747.4 1207.0 2747.5 1213.0C2747.6 1219.0 2748.1 1242.7 2748.3 1242.7C2748.5 1242.7 2749.1 1219.0 2749.2 1213.0C2749.3 1207.0 2749.4 1196.1 2749.5 1190.9C2749.5 1185.7 2749.7 1174.0 2749.7 1168.8C2749.8 1163.6 2749.9 1151.9 2750.0 1146.7C2750.1 1141.5 2750.2 1129.7 2750.3 1124.5C2750.3 1119.3 2750.5 1107.4 2750.5 1102.2C2750.6 1097.0 2750.7 1085.7 2750.8 1080.0C2750.9 1074.3 2751.0 1059.6 2751.1 1053.3C2751.1 1047.1 2751.3 1032.9 2751.3 1026.7C2751.4 1020.4 2751.5 1006.2 2751.6 1000.0C2751.7 993.8 2751.8 979.9 2751.8 973.8C2751.9 967.6 2752.0 953.6 2752.1 947.5C2752.2 941.4 2752.3 927.4 2752.3 921.2C2752.4 915.1 2752.5 900.5 2752.6 895.0C2752.7 889.5 2752.9 879.0 2752.9 874.1C2753.0 869.3 2753.2 858.6 2753.3 853.3C2753.4 848.0 2753.6 834.1 2753.8 828.3C2753.9 822.5 2754.1 809.1 2754.2 803.3C2754.3 797.5 2754.5 784.1 2754.6 778.3C2754.7 772.5 2754.9 758.2 2755.0 753.3C2755.1 748.4 2755.3 740.5 2755.4 736.6C2755.5 732.8 2755.7 723.7 2755.8 720.0C2755.9 716.3 2756.3 708.5 2756.4 705.0C2756.5 701.5 2756.8 693.7 2757.0 690.0C2757.2 686.3 2758.0 676.0 2758.3 673.3C2758.7 670.6 2759.5 666.6 2760.0 667.0C2760.5 667.4 2761.9 672.5 2762.3 676.7C2762.7 680.9 2763.1 698.2 2763.3 703.3C2763.5 708.4 2763.9 716.1 2764.1 720.0C2764.2 723.9 2764.6 732.8 2764.8 736.7C2765.0 740.6 2765.5 749.5 2765.7 753.4C2765.8 757.2 2766.2 765.3 2766.5 770.0C2766.8 774.7 2767.7 789.8 2768.0 793.3C2768.3 796.8 2768.8 800.1 2769.2 799.7C2769.6 799.3 2770.8 792.3 2771.3 790.0C2771.8 787.7 2772.8 780.5 2773.3 780.3C2773.8 780.1 2774.8 786.9 2775.3 788.3C2775.8 789.7 2777.0 792.4 2777.5 792.0C2778.0 791.6 2778.9 787.6 2779.3 785.0C2779.7 782.4 2780.4 774.7 2780.8 770.0C2781.2 765.3 2782.1 750.4 2782.5 745.0C2782.9 739.6 2783.8 728.2 2784.2 723.3C2784.6 718.4 2785.4 707.2 2785.8 703.3C2786.2 699.4 2787.0 692.1 2787.5 690.0C2788.0 687.9 2789.4 684.6 2790.0 685.0C2790.6 685.4 2792.0 690.0 2792.5 693.3C2793.0 696.6 2793.8 707.9 2794.2 713.3C2794.6 718.7 2795.5 734.6 2795.8 740.0C2796.1 745.4 2796.7 756.6 2797.0 760.0C2797.3 763.4 2798.3 768.8 2798.7 769.2C2799.1 769.6 2800.4 765.5 2800.8 763.3C2801.2 761.1 2802.1 752.7 2802.5 750.0C2802.9 747.3 2803.8 741.4 2804.2 740.0C2804.6 738.6 2805.9 736.8 2806.3 738.0C2806.7 739.2 2807.7 746.3 2808.0 750.0C2808.3 753.7 2808.6 765.7 2808.7 770.0C2808.8 774.3 2808.9 782.8 2808.9 786.6C2809.0 790.5 2809.1 799.4 2809.2 803.3C2809.3 807.2 2809.5 816.1 2809.6 820.0C2809.7 823.9 2809.9 832.3 2810.0 836.7C2810.1 841.1 2810.1 852.9 2810.2 857.8C2810.2 862.7 2810.3 874.0 2810.3 878.9C2810.4 883.8 2810.5 894.9 2810.5 900.0C2810.5 905.1 2810.7 917.2 2810.8 922.5C2810.8 927.8 2810.9 939.8 2811.0 945.0C2811.1 950.2 2811.2 962.2 2811.2 967.5C2811.3 972.8 2811.4 984.8 2811.5 990.0C2811.6 995.2 2811.7 1007.2 2811.7 1012.5C2811.7 1017.8 2811.9 1029.8 2811.9 1035.0C2811.9 1040.2 2812.1 1052.2 2812.1 1057.5C2812.1 1062.8 2812.3 1074.2 2812.3 1080.0C2812.3 1085.8 2812.4 1101.1 2812.4 1107.5C2812.4 1113.9 2812.4 1129.4 2812.5 1135.0C2812.6 1140.6 2812.8 1150.8 2812.9 1155.6C2813.0 1160.4 2813.1 1171.3 2813.2 1176.1C2813.3 1180.9 2813.5 1191.4 2813.6 1196.7C2813.7 1202.0 2814.0 1215.9 2814.1 1221.7C2814.2 1227.5 2814.5 1241.8 2814.6 1246.7C2814.7 1251.6 2815.0 1259.5 2815.1 1263.3C2815.3 1267.2 2815.6 1276.3 2815.7 1280.0C2815.8 1283.7 2816.1 1294.8 2816.3 1294.8C2816.5 1294.8 2816.8 1283.7 2817.0 1280.0C2817.2 1276.3 2817.5 1267.2 2817.6 1263.3C2817.7 1259.5 2818.1 1251.6 2818.2 1246.7C2818.3 1241.8 2818.6 1227.5 2818.7 1221.7C2818.8 1215.9 2819.1 1202.0 2819.2 1196.7C2819.3 1191.4 2819.4 1180.9 2819.5 1176.1C2819.5 1171.3 2819.7 1160.4 2819.7 1155.6C2819.8 1150.8 2819.9 1140.6 2820.0 1135.0C2820.1 1129.4 2820.5 1113.9 2820.7 1107.5C2820.9 1101.1 2821.3 1085.7 2821.4 1080.0C2821.5 1074.3 2821.7 1063.4 2821.8 1058.3C2821.9 1053.3 2822.1 1041.7 2822.2 1036.7C2822.3 1031.6 2822.4 1020.2 2822.6 1015.0C2822.8 1009.8 2823.3 995.5 2823.5 992.0C2823.7 988.5 2824.1 984.8 2824.3 985.0C2824.5 985.2 2825.0 990.9 2825.2 994.0C2825.4 997.1 2825.5 1007.8 2825.6 1012.0C2825.7 1016.2 2825.9 1025.0 2826.0 1030.0C2826.1 1035.0 2826.5 1049.2 2826.7 1055.0C2826.8 1060.8 2827.2 1074.9 2827.3 1080.0C2827.4 1085.1 2827.7 1094.5 2827.8 1098.8C2827.9 1103.2 2828.2 1117.7 2828.3 1117.7C2828.4 1117.7 2828.8 1103.2 2828.9 1098.8C2829.0 1094.5 2829.3 1084.5 2829.5 1080.0C2829.7 1075.5 2830.2 1064.7 2830.3 1060.0C2830.4 1055.3 2830.6 1044.7 2830.7 1040.0C2830.8 1035.3 2831.1 1024.7 2831.2 1020.0C2831.3 1015.3 2831.5 1005.1 2831.6 1000.0C2831.7 994.9 2831.9 982.1 2831.9 976.7C2832.0 971.2 2832.2 958.8 2832.3 953.3C2832.3 947.9 2832.5 934.8 2832.6 930.0C2832.7 925.2 2832.9 916.6 2833.0 912.5C2833.1 908.4 2833.3 899.5 2833.4 895.0C2833.5 890.5 2833.7 879.0 2833.8 874.1C2833.9 869.3 2834.1 857.7 2834.2 853.3C2834.3 848.9 2834.6 840.5 2834.8 836.6C2834.9 832.8 2835.1 824.9 2835.3 820.0C2835.5 815.1 2836.4 800.4 2836.7 795.0C2837.0 789.6 2837.7 777.6 2838.0 773.3C2838.3 769.0 2838.9 760.3 2839.2 758.3C2839.5 756.3 2839.8 755.6 2840.3 755.8C2840.8 756.0 2842.6 759.1 2843.3 760.0C2844.0 760.9 2845.8 761.6 2846.3 763.7C2846.8 765.8 2847.3 773.7 2847.5 778.3C2847.7 782.9 2848.1 797.5 2848.3 803.3C2848.5 809.1 2849.0 823.4 2849.2 828.3C2849.4 833.2 2849.6 841.1 2849.8 845.0C2849.9 848.9 2850.2 857.5 2850.3 861.7C2850.4 865.9 2850.4 876.4 2850.4 880.9C2850.4 885.3 2850.4 895.4 2850.5 900.0C2850.6 904.6 2850.8 915.3 2850.9 920.0C2851.0 924.7 2851.1 935.3 2851.2 940.0C2851.3 944.7 2851.5 954.8 2851.6 960.0C2851.7 965.2 2852.0 979.2 2852.1 985.0C2852.2 990.8 2852.5 1004.4 2852.6 1010.0C2852.7 1015.6 2852.8 1027.9 2852.8 1033.3C2852.9 1038.8 2853.0 1051.2 2853.1 1056.7C2853.1 1062.1 2853.2 1074.6 2853.3 1080.0C2853.4 1085.4 2853.6 1097.9 2853.8 1103.3C2853.9 1108.8 2854.1 1121.2 2854.2 1126.7C2854.3 1132.2 2854.6 1144.7 2854.8 1150.2C2854.9 1155.7 2855.2 1173.7 2855.3 1173.7C2855.4 1173.7 2855.8 1155.7 2856.0 1150.2C2856.2 1144.7 2856.6 1132.2 2856.7 1126.7C2856.8 1121.2 2857.0 1108.8 2857.1 1103.3C2857.2 1097.9 2857.4 1085.6 2857.5 1080.0C2857.6 1074.4 2858.0 1060.8 2858.1 1055.0C2858.2 1049.2 2858.6 1035.5 2858.7 1030.0C2858.8 1024.5 2858.9 1012.8 2858.9 1007.5C2859.0 1002.2 2859.1 990.2 2859.2 985.0C2859.3 979.8 2859.4 967.8 2859.4 962.5C2859.5 957.2 2859.6 945.2 2859.7 940.0C2859.8 934.8 2860.0 922.8 2860.1 917.5C2860.2 912.2 2860.4 900.1 2860.5 895.0C2860.6 889.9 2860.6 879.0 2860.7 874.1C2860.7 869.3 2860.7 858.2 2860.8 853.3C2860.9 848.4 2861.1 837.4 2861.2 832.5C2861.4 827.6 2861.6 816.1 2861.7 811.7C2861.8 807.3 2862.0 798.9 2862.1 795.0C2862.2 791.1 2862.4 782.2 2862.5 778.3C2862.6 774.4 2862.8 765.5 2862.9 761.6C2863.0 757.8 2863.2 748.8 2863.3 745.0C2863.4 741.2 2863.8 732.8 2864.0 729.1C2864.2 725.5 2864.5 716.9 2864.7 713.3C2864.9 709.7 2865.5 700.5 2865.8 698.3C2866.1 696.1 2866.5 693.6 2867.0 694.2C2867.5 694.8 2869.2 699.9 2869.7 703.3C2870.2 706.7 2871.0 718.2 2871.3 723.3C2871.7 728.4 2872.4 741.3 2872.7 746.7C2873.0 752.1 2873.5 764.4 2873.7 770.0C2873.9 775.6 2874.5 790.1 2874.7 795.0C2874.9 799.9 2875.1 807.8 2875.2 811.6C2875.3 815.5 2875.6 824.4 2875.7 828.3C2875.8 832.2 2876.1 841.1 2876.2 845.0C2876.3 848.9 2876.6 857.3 2876.7 861.7C2876.8 866.1 2876.9 877.9 2877.0 882.8C2877.1 887.7 2877.2 899.0 2877.3 903.9C2877.4 908.8 2877.5 919.6 2877.6 925.0C2877.7 930.4 2877.9 944.2 2877.9 950.0C2878.0 955.8 2878.2 969.2 2878.3 975.0C2878.3 980.8 2878.5 994.0 2878.6 1000.0C2878.7 1006.0 2878.8 1020.4 2878.8 1026.7C2878.8 1032.9 2879.0 1047.1 2879.0 1053.3C2879.0 1059.6 2879.1 1074.4 2879.2 1080.0C2879.3 1085.6 2879.4 1096.1 2879.5 1101.0C2879.5 1105.9 2879.7 1117.1 2879.7 1122.0C2879.8 1126.9 2879.9 1137.4 2880.0 1143.0C2880.1 1148.6 2880.3 1163.6 2880.4 1169.8C2880.5 1176.1 2880.7 1191.9 2880.8 1196.7C2880.9 1201.5 2881.2 1210.7 2881.3 1210.7C2881.4 1210.7 2881.7 1201.5 2881.8 1196.7C2881.9 1191.9 2882.3 1176.1 2882.4 1169.8C2882.5 1163.6 2882.9 1148.6 2883.0 1143.0C2883.1 1137.4 2883.2 1126.9 2883.2 1122.0C2883.3 1117.1 2883.4 1105.9 2883.5 1101.0C2883.5 1096.1 2883.6 1085.2 2883.7 1080.0C2883.8 1074.8 2883.9 1062.1 2884.0 1056.7C2884.1 1051.2 2884.2 1038.8 2884.3 1033.3C2884.4 1027.9 2884.5 1015.6 2884.6 1010.0C2884.7 1004.4 2884.9 990.8 2885.1 985.0C2885.2 979.2 2885.3 965.8 2885.5 960.0C2885.7 954.2 2886.4 940.1 2886.6 935.0C2886.8 929.9 2887.0 920.4 2887.1 916.0C2887.2 911.6 2887.4 900.6 2887.6 897.0C2887.8 893.4 2888.2 886.8 2888.4 885.0C2888.6 883.2 2889.0 881.7 2889.2 881.8C2889.4 881.9 2889.8 883.9 2890.0 886.0C2890.2 888.1 2890.4 895.5 2890.6 900.0C2890.8 904.5 2891.4 920.3 2891.6 925.0C2891.8 929.7 2892.0 936.5 2892.1 940.0C2892.2 943.5 2892.4 950.0 2892.6 955.0C2892.8 960.0 2893.4 976.1 2893.6 982.5C2893.9 988.9 2894.5 1004.1 2894.7 1010.0C2894.9 1015.9 2895.1 1027.9 2895.2 1033.3C2895.4 1038.8 2895.6 1051.2 2895.8 1056.7C2895.9 1062.1 2896.2 1075.3 2896.3 1080.0C2896.4 1084.7 2896.8 1092.9 2896.9 1096.8C2897.0 1100.8 2897.4 1113.7 2897.5 1113.7C2897.6 1113.7 2898.0 1100.8 2898.1 1096.8C2898.2 1092.9 2898.6 1084.9 2898.7 1080.0C2898.8 1075.1 2899.0 1060.8 2899.1 1055.0C2899.2 1049.2 2899.4 1035.8 2899.5 1030.0C2899.6 1024.2 2899.8 1010.8 2899.8 1005.0C2899.9 999.2 2900.1 985.8 2900.2 980.0C2900.2 974.2 2900.4 960.5 2900.5 955.0C2900.6 949.5 2900.9 937.8 2901.1 932.5C2901.2 927.2 2901.5 915.9 2901.6 910.0C2901.7 904.1 2901.9 888.3 2902.1 881.6C2902.2 875.0 2902.4 859.5 2902.5 853.3C2902.6 847.1 2903.0 834.1 2903.1 828.3C2903.2 822.5 2903.6 809.1 2903.7 803.3C2903.8 797.5 2904.2 784.1 2904.3 778.3C2904.5 772.5 2904.8 758.5 2905.0 753.3C2905.2 748.0 2905.5 738.0 2905.7 733.3C2905.8 728.6 2906.2 717.4 2906.3 713.3C2906.4 709.2 2906.8 701.8 2906.9 698.3C2907.0 694.8 2907.3 687.2 2907.5 683.3C2907.7 679.4 2908.3 667.8 2908.7 665.0C2909.1 662.2 2910.3 658.6 2910.8 659.2C2911.3 659.8 2912.6 665.8 2913.0 670.0C2913.4 674.2 2914.0 690.1 2914.2 695.0C2914.4 699.9 2914.5 707.8 2914.6 711.6C2914.7 715.5 2914.9 723.4 2915.0 728.3C2915.1 733.2 2915.2 747.4 2915.3 753.3C2915.4 759.2 2915.5 772.7 2915.6 778.6C2915.6 784.6 2915.8 798.1 2915.9 804.0C2915.9 809.9 2916.1 823.4 2916.1 829.3C2916.2 835.2 2916.4 848.7 2916.4 854.7C2916.5 860.6 2916.6 873.7 2916.7 880.0C2916.8 886.3 2917.0 901.9 2917.1 908.5C2917.2 915.1 2917.4 930.3 2917.5 937.0C2917.6 943.7 2917.6 958.9 2917.7 965.6C2917.7 972.3 2917.8 987.5 2917.8 994.2C2917.9 1000.9 2917.9 1016.1 2918.0 1022.8C2918.0 1029.5 2918.1 1044.7 2918.1 1051.4C2918.2 1058.1 2918.3 1073.9 2918.3 1080.0C2918.3 1086.1 2918.4 1098.4 2918.4 1104.0C2918.4 1109.6 2918.5 1122.4 2918.5 1128.0C2918.5 1133.6 2918.6 1146.4 2918.6 1152.0C2918.6 1157.6 2918.6 1170.7 2918.7 1176.0C2918.8 1181.3 2919.0 1192.2 2919.0 1197.2C2919.1 1202.1 2919.3 1213.4 2919.4 1218.3C2919.4 1223.3 2919.6 1239.5 2919.7 1239.5C2919.8 1239.5 2920.0 1223.3 2920.1 1218.3C2920.2 1213.4 2920.3 1202.1 2920.4 1197.2C2920.5 1192.2 2920.7 1181.3 2920.8 1176.0C2920.9 1170.7 2921.0 1157.6 2921.0 1152.0C2921.0 1146.4 2921.2 1133.6 2921.2 1128.0C2921.2 1122.4 2921.4 1109.6 2921.4 1104.0C2921.4 1098.4 2921.5 1085.4 2921.6 1080.0C2921.7 1074.6 2921.8 1062.8 2921.8 1057.5C2921.9 1052.2 2922.0 1040.2 2922.1 1035.0C2922.2 1029.8 2922.3 1017.8 2922.3 1012.5C2922.4 1007.2 2922.5 995.2 2922.6 990.0C2922.7 984.8 2922.8 972.8 2922.9 967.5C2922.9 962.2 2923.1 950.2 2923.1 945.0C2923.2 939.8 2923.4 927.8 2923.4 922.5C2923.5 917.2 2923.6 905.7 2923.7 900.0C2923.8 894.3 2923.9 879.6 2923.9 873.3C2924.0 867.1 2924.1 852.9 2924.2 846.7C2924.2 840.4 2924.3 825.7 2924.4 820.0C2924.5 814.3 2924.6 802.8 2924.6 797.5C2924.6 792.2 2924.7 779.2 2924.8 775.0C2924.9 770.8 2925.2 761.3 2925.3 761.3C2925.4 761.3 2925.8 770.8 2925.9 775.0C2926.0 779.2 2926.2 792.2 2926.4 797.5C2926.5 802.8 2926.7 815.0 2926.8 820.0C2926.9 825.0 2927.2 835.3 2927.4 840.0C2927.5 844.7 2927.8 855.3 2927.9 860.0C2928.1 864.7 2928.4 875.1 2928.5 880.0C2928.6 884.9 2929.0 896.9 2929.1 902.0C2929.2 907.1 2929.6 924.0 2929.7 924.0C2929.8 924.0 2930.0 907.1 2930.1 902.0C2930.2 896.9 2930.4 885.4 2930.5 880.0C2930.6 874.6 2930.7 861.6 2930.8 856.0C2930.9 850.4 2931.0 837.6 2931.1 832.0C2931.2 826.4 2931.3 813.6 2931.4 808.0C2931.5 802.4 2931.6 789.6 2931.7 784.0C2931.8 778.4 2931.9 765.6 2932.0 760.0C2932.1 754.4 2932.3 741.6 2932.3 736.0C2932.4 730.4 2932.6 717.6 2932.7 712.0C2932.8 706.4 2932.9 693.6 2933.0 688.0C2933.1 682.4 2933.3 669.6 2933.4 664.0C2933.4 658.4 2933.6 645.5 2933.7 640.0C2933.8 634.5 2933.9 622.1 2933.9 616.6C2934.0 611.2 2934.1 598.5 2934.2 593.3C2934.3 588.1 2934.5 577.4 2934.6 572.5C2934.7 567.6 2934.9 556.6 2935.0 551.7C2935.1 546.8 2935.5 535.7 2935.7 530.9C2935.8 526.0 2936.1 514.4 2936.3 510.0C2936.5 505.6 2937.0 497.2 2937.2 493.4C2937.3 489.5 2937.7 481.4 2938.0 476.7C2938.3 472.0 2939.5 458.4 2940.0 453.3C2940.5 448.2 2941.8 437.2 2942.5 433.3C2943.2 429.4 2945.1 422.7 2945.8 420.0C2946.5 417.3 2947.8 412.3 2948.3 410.0C2948.8 407.7 2949.5 401.5 2950.0 400.0C2950.5 398.5 2952.0 396.6 2952.5 397.0C2953.0 397.4 2954.2 401.4 2954.7 403.3C2955.2 405.2 2956.2 411.6 2956.7 413.3C2957.2 415.0 2958.4 417.5 2959.2 417.5C2960.0 417.5 2962.4 413.6 2963.3 413.3C2964.2 413.0 2965.9 415.4 2966.7 415.0C2967.5 414.6 2969.2 411.3 2970.0 410.0C2970.8 408.7 2972.5 404.5 2973.3 404.2C2974.1 403.9 2975.8 406.9 2976.7 407.5C2977.6 408.1 2980.0 408.1 2980.8 409.2C2981.6 410.3 2982.7 415.7 2983.3 416.7C2983.9 417.7 2985.2 418.0 2985.8 417.5C2986.4 417.0 2987.7 412.6 2988.3 412.5C2988.9 412.4 2990.3 414.7 2990.8 416.7C2991.3 418.7 2992.1 427.3 2992.5 430.0C2992.9 432.7 2993.7 437.7 2994.2 440.0C2994.7 442.3 2995.9 448.2 2996.7 450.0C2997.5 451.8 3000.1 452.9 3000.8 455.0C3001.5 457.1 3002.2 465.0 3002.5 468.3C3002.8 471.6 3003.0 481.2 3003.3 483.3C3003.6 485.4 3004.2 486.9 3004.7 486.7C3005.2 486.5 3007.0 483.8 3007.5 481.7C3008.0 479.6 3008.8 470.9 3009.2 468.3C3009.6 465.7 3010.1 460.2 3010.8 459.2C3011.5 458.2 3014.2 458.7 3015.0 460.0C3015.8 461.3 3016.9 469.2 3017.5 470.0C3018.1 470.8 3019.3 467.6 3020.0 466.7C3020.7 465.8 3022.7 461.5 3023.3 462.5C3023.9 463.5 3024.4 473.0 3025.0 475.0C3025.6 477.0 3027.7 478.3 3028.3 480.0C3028.9 481.7 3029.4 488.1 3030.0 489.2C3030.6 490.3 3032.5 489.1 3033.3 489.2C3034.1 489.3 3036.0 488.4 3036.7 490.0C3037.4 491.6 3038.7 500.0 3039.2 503.3C3039.7 506.6 3040.9 514.6 3041.3 518.3C3041.7 522.0 3042.6 531.5 3043.0 535.0C3043.4 538.5 3044.3 544.8 3044.7 548.3C3045.1 551.8 3046.3 561.1 3046.7 565.0C3047.1 568.9 3047.9 577.8 3048.3 581.7C3048.7 585.6 3049.6 594.6 3050.0 598.3C3050.4 602.0 3051.3 610.2 3051.7 613.3C3052.1 616.4 3052.6 622.9 3053.3 625.0C3054.0 627.1 3056.9 630.0 3057.5 631.7C3058.1 633.5 3058.4 636.1 3058.7 640.0C3059.0 643.9 3059.7 659.2 3059.9 665.0C3060.2 670.8 3061.0 684.9 3061.2 690.0C3061.4 695.1 3061.6 704.5 3061.7 708.9C3061.8 713.2 3062.1 722.6 3062.2 727.7C3062.3 732.8 3062.5 746.9 3062.6 752.8C3062.8 758.6 3063.0 772.1 3063.1 777.8C3063.2 783.5 3063.4 796.3 3063.5 801.9C3063.6 807.5 3063.9 820.3 3064.0 825.9C3064.1 831.5 3064.3 844.0 3064.4 850.0C3064.5 856.0 3064.6 870.8 3064.7 877.2C3064.7 883.5 3064.9 898.0 3064.9 904.3C3065.0 910.7 3065.1 925.2 3065.2 931.5C3065.3 937.8 3065.4 952.3 3065.5 958.7C3065.5 965.0 3065.7 979.5 3065.7 985.8C3065.8 992.2 3065.9 1006.4 3066.0 1013.0C3066.1 1019.6 3066.2 1035.5 3066.3 1042.4C3066.4 1049.3 3066.5 1064.9 3066.6 1071.8C3066.7 1078.7 3066.8 1094.3 3066.9 1101.2C3067.0 1108.1 3067.1 1123.7 3067.2 1130.6C3067.3 1137.5 3067.4 1153.7 3067.5 1160.0C3067.6 1166.3 3068.2 1178.9 3068.4 1184.7C3068.7 1190.4 3069.1 1203.6 3069.4 1209.3C3069.6 1215.1 3070.1 1234.0 3070.3 1234.0C3070.5 1234.0 3071.1 1215.1 3071.3 1209.3C3071.5 1203.6 3072.1 1190.4 3072.3 1184.7C3072.5 1178.9 3073.1 1165.8 3073.3 1160.0C3073.5 1154.2 3074.0 1140.8 3074.2 1135.0C3074.3 1129.2 3074.8 1115.7 3075.0 1110.0C3075.2 1104.3 3075.6 1091.6 3075.7 1086.0C3075.9 1080.4 3076.3 1067.6 3076.5 1062.0C3076.7 1056.4 3077.0 1043.6 3077.2 1038.0C3077.4 1032.4 3077.8 1019.6 3078.0 1014.0C3078.1 1008.4 3078.5 996.0 3078.7 990.0C3078.9 984.0 3079.4 968.9 3079.6 962.5C3079.9 956.1 3080.4 941.4 3080.6 935.0C3080.8 928.6 3081.3 913.9 3081.6 907.5C3081.8 901.1 3082.3 885.0 3082.5 880.0C3082.7 875.0 3082.9 868.5 3083.0 865.0C3083.1 861.5 3083.4 854.1 3083.5 850.0C3083.6 845.9 3083.8 834.3 3083.9 829.5C3084.1 824.8 3084.2 814.4 3084.4 809.1C3084.6 803.8 3085.2 789.8 3085.6 784.0C3086.0 778.2 3087.1 764.1 3087.5 759.0C3087.9 753.9 3088.5 744.1 3088.8 740.2C3089.1 736.3 3089.6 727.8 3089.8 725.2C3090.0 722.6 3090.3 718.4 3090.7 717.6C3091.1 716.8 3092.6 718.7 3093.2 718.3C3093.8 717.9 3095.1 714.8 3095.7 713.9C3096.3 713.0 3097.7 710.9 3098.2 711.0C3098.7 711.1 3099.6 712.9 3100.0 715.1C3100.4 717.3 3101.0 726.4 3101.3 730.2C3101.6 734.0 3102.3 743.9 3102.6 747.7C3102.9 751.5 3103.4 759.5 3103.8 762.7C3104.2 765.9 3105.3 772.4 3105.7 775.3C3106.1 778.2 3106.6 784.3 3106.9 787.8C3107.2 791.3 3107.9 800.9 3108.2 805.3C3108.5 809.7 3108.9 821.2 3109.1 825.3C3109.3 829.4 3109.9 837.5 3110.1 840.4C3110.3 843.3 3110.5 847.1 3110.7 850.0C3110.9 852.9 3111.4 861.5 3111.6 865.0C3111.8 868.5 3112.3 875.1 3112.5 880.0C3112.7 884.9 3112.9 900.4 3113.0 906.6C3113.1 912.8 3113.4 927.0 3113.5 933.2C3113.6 939.4 3113.9 953.6 3114.0 959.8C3114.1 966.0 3114.4 980.2 3114.5 986.4C3114.6 992.6 3114.9 1006.7 3115.0 1013.0C3115.1 1019.3 3115.4 1034.0 3115.5 1040.4C3115.6 1046.8 3115.9 1061.4 3116.0 1067.8C3116.1 1074.2 3116.4 1088.8 3116.5 1095.2C3116.6 1101.6 3116.9 1116.2 3117.0 1122.6C3117.1 1129.0 3117.4 1143.9 3117.5 1150.0C3117.6 1156.1 3117.7 1169.2 3117.8 1175.0C3117.9 1180.8 3118.0 1194.2 3118.1 1200.0C3118.2 1205.8 3118.3 1219.2 3118.4 1225.0C3118.5 1230.8 3118.6 1244.5 3118.7 1250.0C3118.8 1255.5 3119.0 1267.1 3119.1 1272.3C3119.2 1277.5 3119.5 1289.5 3119.6 1294.7C3119.7 1299.9 3119.8 1311.0 3120.0 1317.0C3120.2 1323.0 3120.8 1339.2 3121.0 1346.0C3121.2 1352.8 3121.7 1369.9 3122.0 1375.0C3122.3 1380.1 3123.0 1390.0 3123.3 1390.0C3123.6 1390.0 3124.5 1379.4 3124.7 1375.0C3124.9 1370.6 3125.2 1357.8 3125.3 1352.5C3125.5 1347.2 3125.8 1334.5 3126.0 1330.0C3126.2 1325.5 3126.6 1317.3 3126.8 1313.5C3126.9 1309.7 3127.3 1301.5 3127.5 1297.0C3127.7 1292.5 3128.0 1279.7 3128.3 1275.0C3128.6 1270.3 3129.7 1260.8 3130.0 1257.0C3130.3 1253.2 3130.5 1245.5 3130.7 1242.0C3130.8 1238.5 3131.1 1230.7 3131.3 1227.0C3131.5 1223.3 3132.2 1213.7 3132.5 1210.0C3132.8 1206.3 3133.5 1196.8 3133.6 1195.0" fill="none" stroke="#000" stroke-width="6.8" stroke-linejoin="round" stroke-linecap="butt" shape-rendering="crispEdges"/>
<g stroke="#000" stroke-width="7.0" fill="none" stroke-linecap="round" shape-rendering="crispEdges">
<rect x="379.5" y="285.5" width="2754.0" height="1767.0" stroke-linejoin="round"/>
<line x1="344.5" y1="2052.5" x2="379.5" y2="2052.5"/>
<line x1="362.5" y1="1916.5" x2="379.5" y2="1916.5"/>
<line x1="344.5" y1="1780.5" x2="379.5" y2="1780.5"/>
<line x1="362.5" y1="1644.5" x2="379.5" y2="1644.5"/>
<line x1="344.5" y1="1509.5" x2="379.5" y2="1509.5"/>
<line x1="362.5" y1="1373.5" x2="379.5" y2="1373.5"/>
<line x1="344.5" y1="1237.5" x2="379.5" y2="1237.5"/>
<line x1="362.5" y1="1101.5" x2="379.5" y2="1101.5"/>
<line x1="344.5" y1="965.5" x2="379.5" y2="965.5"/>
<line x1="362.5" y1="829.5" x2="379.5" y2="829.5"/>
<line x1="344.5" y1="693.5" x2="379.5" y2="693.5"/>
<line x1="362.5" y1="557.5" x2="379.5" y2="557.5"/>
<line x1="344.5" y1="421.5" x2="379.5" y2="421.5"/>
<line x1="362.5" y1="285.5" x2="379.5" y2="285.5"/>
<line x1="379.5" y1="2052.5" x2="379.5" y2="2087.5"/>
<line x1="506.5" y1="2052.5" x2="506.5" y2="2069.5"/>
<line x1="634.5" y1="2052.5" x2="634.5" y2="2087.5"/>
<line x1="761.5" y1="2052.5" x2="761.5" y2="2069.5"/>
<line x1="889.5" y1="2052.5" x2="889.5" y2="2087.5"/>
<line x1="1016.5" y1="2052.5" x2="1016.5" y2="2069.5"/>
<line x1="1144.5" y1="2052.5" x2="1144.5" y2="2087.5"/>
<line x1="1271.5" y1="2052.5" x2="1271.5" y2="2069.5"/>
<line x1="1399.5" y1="2052.5" x2="1399.5" y2="2087.5"/>
<line x1="1526.5" y1="2052.5" x2="1526.5" y2="2069.5"/>
<line x1="1654.5" y1="2052.5" x2="1654.5" y2="2087.5"/>
<line x1="1781.5" y1="2052.5" x2="1781.5" y2="2069.5"/>
<line x1="1909.5" y1="2052.5" x2="1909.5" y2="2087.5"/>
<line x1="2036.5" y1="2052.5" x2="2036.5" y2="2069.5"/>
<line x1="2164.5" y1="2052.5" x2="2164.5" y2="2087.5"/>
<line x1="2291.5" y1="2052.5" x2="2291.5" y2="2069.5"/>
<line x1="2419.5" y1="2052.5" x2="2419.5" y2="2087.5"/>
<line x1="2546.5" y1="2052.5" x2="2546.5" y2="2069.5"/>
<line x1="2674.5" y1="2052.5" x2="2674.5" y2="2087.5"/>
<line x1="2801.5" y1="2052.5" x2="2801.5" y2="2069.5"/>
<line x1="2929.5" y1="2052.5" x2="2929.5" y2="2087.5"/>
<line x1="3056.5" y1="2052.5" x2="3056.5" y2="2069.5"/>
</g>
<text transform="translate(237.90 2075.10) scale(1 1.025)" font-size="75">9</text>
<text transform="translate(279.60 2075.10) scale(1 1.025)" font-size="75">0</text>
<text transform="translate(237.90 1803.22) scale(1 1.025)" font-size="75">9</text>
<text transform="translate(279.60 1803.22) scale(1 1.025)" font-size="75">2</text>
<text transform="translate(237.90 1531.34) scale(1 1.025)" font-size="75">9</text>
<text transform="translate(279.60 1531.34) scale(1 1.025)" font-size="75">4</text>
<text transform="translate(237.90 1259.46) scale(1 1.025)" font-size="75">9</text>
<text transform="translate(279.60 1259.46) scale(1 1.025)" font-size="75">6</text>
<text transform="translate(237.90 987.58) scale(1 1.025)" font-size="75">9</text>
<text transform="translate(279.60 987.58) scale(1 1.025)" font-size="75">8</text>
<path d="M763 0H583V1147Q518 1085 412.5 1023T223 930V1104Q374 1175 487 1276T647 1472H763Z" transform="translate(196.20 715.70) scale(0.03662 -0.03662)"/>
<text transform="translate(237.90 715.70) scale(1 1.025)" font-size="75">0</text>
<text transform="translate(279.60 715.70) scale(1 1.025)" font-size="75">0</text>
<path d="M763 0H583V1147Q518 1085 412.5 1023T223 930V1104Q374 1175 487 1276T647 1472H763Z" transform="translate(196.20 443.82) scale(0.03662 -0.03662)"/>
<text transform="translate(237.90 443.82) scale(1 1.025)" font-size="75">0</text>
<text transform="translate(279.60 443.82) scale(1 1.025)" font-size="75">2</text>
<text transform="translate(295.60 2169.30) scale(1 1.025)" font-size="75">3</text>
<text transform="translate(337.30 2169.30) scale(1 1.025)" font-size="75">5</text>
<text transform="translate(379.00 2169.30) scale(1 1.025)" font-size="75">0</text>
<text transform="translate(420.70 2169.30) scale(1 1.025)" font-size="75">0</text>
<text transform="translate(550.60 2169.30) scale(1 1.025)" font-size="75">3</text>
<text transform="translate(592.30 2169.30) scale(1 1.025)" font-size="75">2</text>
<text transform="translate(634.00 2169.30) scale(1 1.025)" font-size="75">5</text>
<text transform="translate(675.70 2169.30) scale(1 1.025)" font-size="75">0</text>
<text transform="translate(805.60 2169.30) scale(1 1.025)" font-size="75">3</text>
<text transform="translate(847.30 2169.30) scale(1 1.025)" font-size="75">0</text>
<text transform="translate(889.00 2169.30) scale(1 1.025)" font-size="75">0</text>
<text transform="translate(930.70 2169.30) scale(1 1.025)" font-size="75">0</text>
<text transform="translate(1060.60 2169.30) scale(1 1.025)" font-size="75">2</text>
<text transform="translate(1102.30 2169.30) scale(1 1.025)" font-size="75">7</text>
<text transform="translate(1144.00 2169.30) scale(1 1.025)" font-size="75">5</text>
<text transform="translate(1185.70 2169.30) scale(1 1.025)" font-size="75">0</text>
<text transform="translate(1315.60 2169.30) scale(1 1.025)" font-size="75">2</text>
<text transform="translate(1357.30 2169.30) scale(1 1.025)" font-size="75">5</text>
<text transform="translate(1399.00 2169.30) scale(1 1.025)" font-size="75">0</text>
<text transform="translate(1440.70 2169.30) scale(1 1.025)" font-size="75">0</text>
<text transform="translate(1570.60 2169.30) scale(1 1.025)" font-size="75">2</text>
<text transform="translate(1612.30 2169.30) scale(1 1.025)" font-size="75">2</text>
<text transform="translate(1654.00 2169.30) scale(1 1.025)" font-size="75">5</text>
<text transform="translate(1695.70 2169.30) scale(1 1.025)" font-size="75">0</text>
<text transform="translate(1825.60 2169.30) scale(1 1.025)" font-size="75">2</text>
<text transform="translate(1867.30 2169.30) scale(1 1.025)" font-size="75">0</text>
<text transform="translate(1909.00 2169.30) scale(1 1.025)" font-size="75">0</text>
<text transform="translate(1950.70 2169.30) scale(1 1.025)" font-size="75">0</text>
<path d="M763 0H583V1147Q518 1085 412.5 1023T223 930V1104Q374 1175 487 1276T647 1472H763Z" transform="translate(2080.60 2169.30) scale(0.03662 -0.03662)"/>
<text transform="translate(2122.30 2169.30) scale(1 1.025)" font-size="75">7</text>
<text transform="translate(2164.00 2169.30) scale(1 1.025)" font-size="75">5</text>
<text transform="translate(2205.70 2169.30) scale(1 1.025)" font-size="75">0</text>
<path d="M763 0H583V1147Q518 1085 412.5 1023T223 930V1104Q374 1175 487 1276T647 1472H763Z" transform="translate(2335.60 2169.30) scale(0.03662 -0.03662)"/>
<text transform="translate(2377.30 2169.30) scale(1 1.025)" font-size="75">5</text>
<text transform="translate(2419.00 2169.30) scale(1 1.025)" font-size="75">0</text>
<text transform="translate(2460.70 2169.30) scale(1 1.025)" font-size="75">0</text>
<path d="M763 0H583V1147Q518 1085 412.5 1023T223 930V1104Q374 1175 487 1276T647 1472H763Z" transform="translate(2590.60 2169.30) scale(0.03662 -0.03662)"/>
<text transform="translate(2632.30 2169.30) scale(1 1.025)" font-size="75">2</text>
<text transform="translate(2674.00 2169.30) scale(1 1.025)" font-size="75">5</text>
<text transform="translate(2715.70 2169.30) scale(1 1.025)" font-size="75">0</text>
<path d="M763 0H583V1147Q518 1085 412.5 1023T223 930V1104Q374 1175 487 1276T647 1472H763Z" transform="translate(2845.60 2169.30) scale(0.03662 -0.03662)"/>
<text transform="translate(2887.30 2169.30) scale(1 1.025)" font-size="75">0</text>
<text transform="translate(2929.00 2169.30) scale(1 1.025)" font-size="75">0</text>
<text transform="translate(2970.70 2169.30) scale(1 1.025)" font-size="75">0</text>
<text transform="translate(1356.5 2322.8) scale(1 0.98)" font-size="92">wave number / cm</text>
<text transform="translate(2105.80 2277.80) scale(1 1.000)" font-size="54">-</text>
<path d="M763 0H583V1147Q518 1085 412.5 1023T223 930V1104Q374 1175 487 1276T647 1472H763Z" transform="translate(2123.78 2277.80) scale(0.02637 -0.02637)"/>
<text transform="translate(91.5 1473) rotate(-90) scale(1 0.98)" font-size="92">transmission / %</text>
</svg>
</body></html>
